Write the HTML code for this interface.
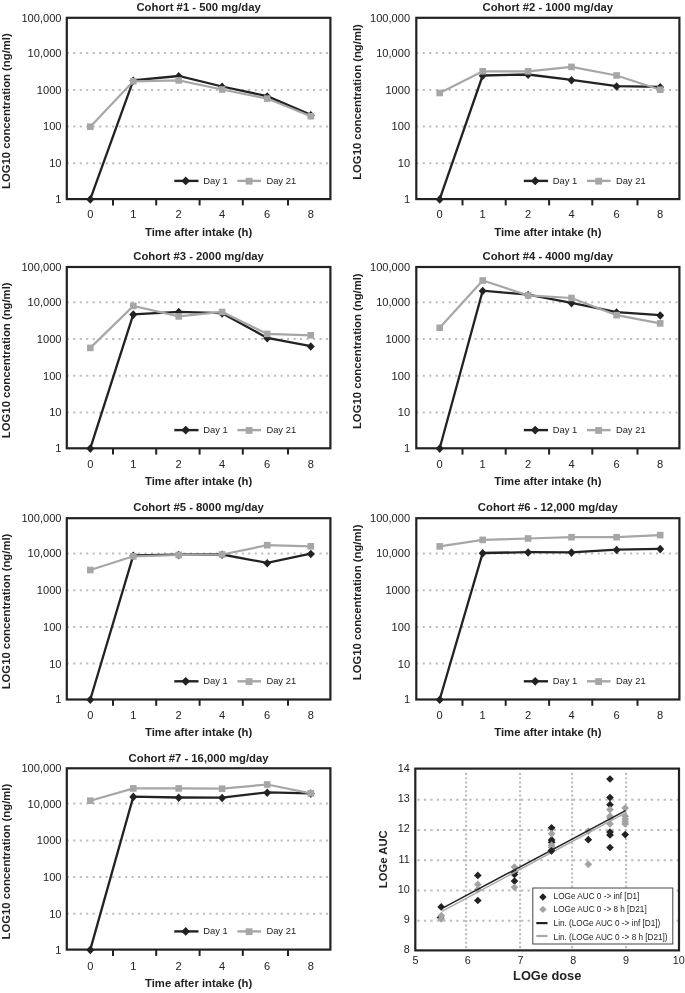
<!DOCTYPE html>
<html><head><meta charset="utf-8"><title>Figure</title>
<style>
html,body{margin:0;padding:0;background:#fff;}
body{width:685px;height:993px;overflow:hidden;}
svg{display:block;filter:grayscale(100%);font-family:"Liberation Sans", sans-serif;}
</style></head>
<body>
<svg width="685" height="993" viewBox="0 0 685 993">
<rect width="685" height="993" fill="#fff"/>
<path d="M66.75 52.10h2.10v2.00h-2.10zM73.23 52.10h2.10v2.00h-2.10zM79.71 52.10h2.10v2.00h-2.10zM86.19 52.10h2.10v2.00h-2.10zM92.67 52.10h2.10v2.00h-2.10zM99.15 52.10h2.10v2.00h-2.10zM105.63 52.10h2.10v2.00h-2.10zM112.11 52.10h2.10v2.00h-2.10zM118.59 52.10h2.10v2.00h-2.10zM125.07 52.10h2.10v2.00h-2.10zM131.55 52.10h2.10v2.00h-2.10zM138.03 52.10h2.10v2.00h-2.10zM144.51 52.10h2.10v2.00h-2.10zM150.99 52.10h2.10v2.00h-2.10zM157.47 52.10h2.10v2.00h-2.10zM163.95 52.10h2.10v2.00h-2.10zM170.43 52.10h2.10v2.00h-2.10zM176.91 52.10h2.10v2.00h-2.10zM183.39 52.10h2.10v2.00h-2.10zM189.87 52.10h2.10v2.00h-2.10zM196.35 52.10h2.10v2.00h-2.10zM202.83 52.10h2.10v2.00h-2.10zM209.31 52.10h2.10v2.00h-2.10zM215.79 52.10h2.10v2.00h-2.10zM222.27 52.10h2.10v2.00h-2.10zM228.75 52.10h2.10v2.00h-2.10zM235.23 52.10h2.10v2.00h-2.10zM241.71 52.10h2.10v2.00h-2.10zM248.19 52.10h2.10v2.00h-2.10zM254.67 52.10h2.10v2.00h-2.10zM261.15 52.10h2.10v2.00h-2.10zM267.63 52.10h2.10v2.00h-2.10zM274.11 52.10h2.10v2.00h-2.10zM280.59 52.10h2.10v2.00h-2.10zM287.07 52.10h2.10v2.00h-2.10zM293.55 52.10h2.10v2.00h-2.10zM300.03 52.10h2.10v2.00h-2.10zM306.51 52.10h2.10v2.00h-2.10zM312.99 52.10h2.10v2.00h-2.10zM319.47 52.10h2.10v2.00h-2.10zM325.95 52.10h2.10v2.00h-2.10z" fill="#bdbdbd"/>
<path d="M66.75 88.90h2.10v2.00h-2.10zM73.23 88.90h2.10v2.00h-2.10zM79.71 88.90h2.10v2.00h-2.10zM86.19 88.90h2.10v2.00h-2.10zM92.67 88.90h2.10v2.00h-2.10zM99.15 88.90h2.10v2.00h-2.10zM105.63 88.90h2.10v2.00h-2.10zM112.11 88.90h2.10v2.00h-2.10zM118.59 88.90h2.10v2.00h-2.10zM125.07 88.90h2.10v2.00h-2.10zM131.55 88.90h2.10v2.00h-2.10zM138.03 88.90h2.10v2.00h-2.10zM144.51 88.90h2.10v2.00h-2.10zM150.99 88.90h2.10v2.00h-2.10zM157.47 88.90h2.10v2.00h-2.10zM163.95 88.90h2.10v2.00h-2.10zM170.43 88.90h2.10v2.00h-2.10zM176.91 88.90h2.10v2.00h-2.10zM183.39 88.90h2.10v2.00h-2.10zM189.87 88.90h2.10v2.00h-2.10zM196.35 88.90h2.10v2.00h-2.10zM202.83 88.90h2.10v2.00h-2.10zM209.31 88.90h2.10v2.00h-2.10zM215.79 88.90h2.10v2.00h-2.10zM222.27 88.90h2.10v2.00h-2.10zM228.75 88.90h2.10v2.00h-2.10zM235.23 88.90h2.10v2.00h-2.10zM241.71 88.90h2.10v2.00h-2.10zM248.19 88.90h2.10v2.00h-2.10zM254.67 88.90h2.10v2.00h-2.10zM261.15 88.90h2.10v2.00h-2.10zM267.63 88.90h2.10v2.00h-2.10zM274.11 88.90h2.10v2.00h-2.10zM280.59 88.90h2.10v2.00h-2.10zM287.07 88.90h2.10v2.00h-2.10zM293.55 88.90h2.10v2.00h-2.10zM300.03 88.90h2.10v2.00h-2.10zM306.51 88.90h2.10v2.00h-2.10zM312.99 88.90h2.10v2.00h-2.10zM319.47 88.90h2.10v2.00h-2.10zM325.95 88.90h2.10v2.00h-2.10z" fill="#bdbdbd"/>
<path d="M66.75 125.50h2.10v2.00h-2.10zM73.23 125.50h2.10v2.00h-2.10zM79.71 125.50h2.10v2.00h-2.10zM86.19 125.50h2.10v2.00h-2.10zM92.67 125.50h2.10v2.00h-2.10zM99.15 125.50h2.10v2.00h-2.10zM105.63 125.50h2.10v2.00h-2.10zM112.11 125.50h2.10v2.00h-2.10zM118.59 125.50h2.10v2.00h-2.10zM125.07 125.50h2.10v2.00h-2.10zM131.55 125.50h2.10v2.00h-2.10zM138.03 125.50h2.10v2.00h-2.10zM144.51 125.50h2.10v2.00h-2.10zM150.99 125.50h2.10v2.00h-2.10zM157.47 125.50h2.10v2.00h-2.10zM163.95 125.50h2.10v2.00h-2.10zM170.43 125.50h2.10v2.00h-2.10zM176.91 125.50h2.10v2.00h-2.10zM183.39 125.50h2.10v2.00h-2.10zM189.87 125.50h2.10v2.00h-2.10zM196.35 125.50h2.10v2.00h-2.10zM202.83 125.50h2.10v2.00h-2.10zM209.31 125.50h2.10v2.00h-2.10zM215.79 125.50h2.10v2.00h-2.10zM222.27 125.50h2.10v2.00h-2.10zM228.75 125.50h2.10v2.00h-2.10zM235.23 125.50h2.10v2.00h-2.10zM241.71 125.50h2.10v2.00h-2.10zM248.19 125.50h2.10v2.00h-2.10zM254.67 125.50h2.10v2.00h-2.10zM261.15 125.50h2.10v2.00h-2.10zM267.63 125.50h2.10v2.00h-2.10zM274.11 125.50h2.10v2.00h-2.10zM280.59 125.50h2.10v2.00h-2.10zM287.07 125.50h2.10v2.00h-2.10zM293.55 125.50h2.10v2.00h-2.10zM300.03 125.50h2.10v2.00h-2.10zM306.51 125.50h2.10v2.00h-2.10zM312.99 125.50h2.10v2.00h-2.10zM319.47 125.50h2.10v2.00h-2.10zM325.95 125.50h2.10v2.00h-2.10z" fill="#bdbdbd"/>
<path d="M66.75 162.20h2.10v2.00h-2.10zM73.23 162.20h2.10v2.00h-2.10zM79.71 162.20h2.10v2.00h-2.10zM86.19 162.20h2.10v2.00h-2.10zM92.67 162.20h2.10v2.00h-2.10zM99.15 162.20h2.10v2.00h-2.10zM105.63 162.20h2.10v2.00h-2.10zM112.11 162.20h2.10v2.00h-2.10zM118.59 162.20h2.10v2.00h-2.10zM125.07 162.20h2.10v2.00h-2.10zM131.55 162.20h2.10v2.00h-2.10zM138.03 162.20h2.10v2.00h-2.10zM144.51 162.20h2.10v2.00h-2.10zM150.99 162.20h2.10v2.00h-2.10zM157.47 162.20h2.10v2.00h-2.10zM163.95 162.20h2.10v2.00h-2.10zM170.43 162.20h2.10v2.00h-2.10zM176.91 162.20h2.10v2.00h-2.10zM183.39 162.20h2.10v2.00h-2.10zM189.87 162.20h2.10v2.00h-2.10zM196.35 162.20h2.10v2.00h-2.10zM202.83 162.20h2.10v2.00h-2.10zM209.31 162.20h2.10v2.00h-2.10zM215.79 162.20h2.10v2.00h-2.10zM222.27 162.20h2.10v2.00h-2.10zM228.75 162.20h2.10v2.00h-2.10zM235.23 162.20h2.10v2.00h-2.10zM241.71 162.20h2.10v2.00h-2.10zM248.19 162.20h2.10v2.00h-2.10zM254.67 162.20h2.10v2.00h-2.10zM261.15 162.20h2.10v2.00h-2.10zM267.63 162.20h2.10v2.00h-2.10zM274.11 162.20h2.10v2.00h-2.10zM280.59 162.20h2.10v2.00h-2.10zM287.07 162.20h2.10v2.00h-2.10zM293.55 162.20h2.10v2.00h-2.10zM300.03 162.20h2.10v2.00h-2.10zM306.51 162.20h2.10v2.00h-2.10zM312.99 162.20h2.10v2.00h-2.10zM319.47 162.20h2.10v2.00h-2.10zM325.95 162.20h2.10v2.00h-2.10z" fill="#bdbdbd"/>
<rect x="66.80" y="17.80" width="263.60" height="181.30" fill="none" stroke="#222" stroke-width="2.2"/>
<line x1="113.00" y1="199.10" x2="113.00" y2="205.40" stroke="#222" stroke-width="2"/>
<line x1="156.20" y1="199.10" x2="156.20" y2="205.40" stroke="#222" stroke-width="2"/>
<line x1="199.60" y1="199.10" x2="199.60" y2="205.40" stroke="#222" stroke-width="2"/>
<line x1="242.80" y1="199.10" x2="242.80" y2="205.40" stroke="#222" stroke-width="2"/>
<line x1="288.00" y1="199.10" x2="288.00" y2="205.40" stroke="#222" stroke-width="2"/>
<text x="61.50" y="21.70" font-size="11.1" font-weight="normal" text-anchor="end" fill="#222" >100,000</text>
<text x="61.50" y="57.00" font-size="11.1" font-weight="normal" text-anchor="end" fill="#222" >10,000</text>
<text x="61.50" y="93.80" font-size="11.1" font-weight="normal" text-anchor="end" fill="#222" >1000</text>
<text x="61.50" y="130.40" font-size="11.1" font-weight="normal" text-anchor="end" fill="#222" >100</text>
<text x="61.50" y="167.10" font-size="11.1" font-weight="normal" text-anchor="end" fill="#222" >10</text>
<text x="61.50" y="203.00" font-size="11.1" font-weight="normal" text-anchor="end" fill="#222" >1</text>
<text x="90.30" y="218.00" font-size="11.1" font-weight="normal" text-anchor="middle" fill="#222" >0</text>
<text x="133.30" y="218.00" font-size="11.1" font-weight="normal" text-anchor="middle" fill="#222" >1</text>
<text x="178.70" y="218.00" font-size="11.1" font-weight="normal" text-anchor="middle" fill="#222" >2</text>
<text x="222.10" y="218.00" font-size="11.1" font-weight="normal" text-anchor="middle" fill="#222" >4</text>
<text x="267.20" y="218.00" font-size="11.1" font-weight="normal" text-anchor="middle" fill="#222" >6</text>
<text x="310.80" y="218.00" font-size="11.1" font-weight="normal" text-anchor="middle" fill="#222" >8</text>
<text x="198.60" y="11.00" font-size="11.3" font-weight="bold" text-anchor="middle" fill="#222" >Cohort #1 - 500 mg/day</text>
<text x="198.60" y="235.70" font-size="11.3" font-weight="bold" text-anchor="middle" fill="#222" >Time after intake (h)</text>
<text x="0.00" y="0.00" font-size="11.3" font-weight="bold" text-anchor="middle" fill="#222" transform="translate(9.80 111.10) rotate(-90)">LOG10 concentration (ng/ml)</text>
<polyline points="90.30,199.10 133.30,80.40 178.70,76.00 222.10,86.50 267.20,96.20 310.80,114.90" fill="none" stroke="#222" stroke-width="2.3" stroke-linejoin="miter"/>
<path d="M90.30 195.10L94.30 199.40L90.30 203.70L86.30 199.40Z" fill="#222"/>
<path d="M133.30 76.40L137.30 80.70L133.30 85.00L129.30 80.70Z" fill="#222"/>
<path d="M178.70 72.00L182.70 76.30L178.70 80.60L174.70 76.30Z" fill="#222"/>
<path d="M222.10 82.50L226.10 86.80L222.10 91.10L218.10 86.80Z" fill="#222"/>
<path d="M267.20 92.20L271.20 96.50L267.20 100.80L263.20 96.50Z" fill="#222"/>
<path d="M310.80 110.90L314.80 115.20L310.80 119.50L306.80 115.20Z" fill="#222"/>
<polyline points="90.30,126.70 133.30,81.30 178.70,80.40 222.10,89.50 267.20,98.60 310.80,116.20" fill="none" stroke="#a5a6a9" stroke-width="2.2" stroke-linejoin="miter"/>
<rect x="87.00" y="123.40" width="6.60" height="6.60" fill="#a5a6a9"/>
<rect x="130.00" y="78.00" width="6.60" height="6.60" fill="#a5a6a9"/>
<rect x="175.40" y="77.10" width="6.60" height="6.60" fill="#a5a6a9"/>
<rect x="218.80" y="86.20" width="6.60" height="6.60" fill="#a5a6a9"/>
<rect x="263.90" y="95.30" width="6.60" height="6.60" fill="#a5a6a9"/>
<rect x="307.50" y="112.90" width="6.60" height="6.60" fill="#a5a6a9"/>
<line x1="174.30" y1="180.90" x2="198.50" y2="180.90" stroke="#222" stroke-width="2.4"/>
<path d="M185.70 176.50L190.10 180.90L185.70 185.30L181.30 180.90Z" fill="#222"/>
<text x="203.20" y="183.60" font-size="9.4" font-weight="normal" text-anchor="start" fill="#222" >Day 1</text>
<line x1="237.40" y1="180.90" x2="261.10" y2="180.90" stroke="#a5a6a9" stroke-width="2.4"/>
<rect x="245.70" y="177.80" width="6.80" height="6.80" fill="#a5a6a9"/>
<text x="266.40" y="183.60" font-size="9.4" font-weight="normal" text-anchor="start" fill="#222" >Day 21</text>
<path d="M416.25 52.10h2.10v2.00h-2.10zM422.73 52.10h2.10v2.00h-2.10zM429.21 52.10h2.10v2.00h-2.10zM435.69 52.10h2.10v2.00h-2.10zM442.17 52.10h2.10v2.00h-2.10zM448.65 52.10h2.10v2.00h-2.10zM455.13 52.10h2.10v2.00h-2.10zM461.61 52.10h2.10v2.00h-2.10zM468.09 52.10h2.10v2.00h-2.10zM474.57 52.10h2.10v2.00h-2.10zM481.05 52.10h2.10v2.00h-2.10zM487.53 52.10h2.10v2.00h-2.10zM494.01 52.10h2.10v2.00h-2.10zM500.49 52.10h2.10v2.00h-2.10zM506.97 52.10h2.10v2.00h-2.10zM513.45 52.10h2.10v2.00h-2.10zM519.93 52.10h2.10v2.00h-2.10zM526.41 52.10h2.10v2.00h-2.10zM532.89 52.10h2.10v2.00h-2.10zM539.37 52.10h2.10v2.00h-2.10zM545.85 52.10h2.10v2.00h-2.10zM552.33 52.10h2.10v2.00h-2.10zM558.81 52.10h2.10v2.00h-2.10zM565.29 52.10h2.10v2.00h-2.10zM571.77 52.10h2.10v2.00h-2.10zM578.25 52.10h2.10v2.00h-2.10zM584.73 52.10h2.10v2.00h-2.10zM591.21 52.10h2.10v2.00h-2.10zM597.69 52.10h2.10v2.00h-2.10zM604.17 52.10h2.10v2.00h-2.10zM610.65 52.10h2.10v2.00h-2.10zM617.13 52.10h2.10v2.00h-2.10zM623.61 52.10h2.10v2.00h-2.10zM630.09 52.10h2.10v2.00h-2.10zM636.57 52.10h2.10v2.00h-2.10zM643.05 52.10h2.10v2.00h-2.10zM649.53 52.10h2.10v2.00h-2.10zM656.01 52.10h2.10v2.00h-2.10zM662.49 52.10h2.10v2.00h-2.10zM668.97 52.10h2.10v2.00h-2.10zM675.45 52.10h2.10v2.00h-2.10z" fill="#bdbdbd"/>
<path d="M416.25 88.90h2.10v2.00h-2.10zM422.73 88.90h2.10v2.00h-2.10zM429.21 88.90h2.10v2.00h-2.10zM435.69 88.90h2.10v2.00h-2.10zM442.17 88.90h2.10v2.00h-2.10zM448.65 88.90h2.10v2.00h-2.10zM455.13 88.90h2.10v2.00h-2.10zM461.61 88.90h2.10v2.00h-2.10zM468.09 88.90h2.10v2.00h-2.10zM474.57 88.90h2.10v2.00h-2.10zM481.05 88.90h2.10v2.00h-2.10zM487.53 88.90h2.10v2.00h-2.10zM494.01 88.90h2.10v2.00h-2.10zM500.49 88.90h2.10v2.00h-2.10zM506.97 88.90h2.10v2.00h-2.10zM513.45 88.90h2.10v2.00h-2.10zM519.93 88.90h2.10v2.00h-2.10zM526.41 88.90h2.10v2.00h-2.10zM532.89 88.90h2.10v2.00h-2.10zM539.37 88.90h2.10v2.00h-2.10zM545.85 88.90h2.10v2.00h-2.10zM552.33 88.90h2.10v2.00h-2.10zM558.81 88.90h2.10v2.00h-2.10zM565.29 88.90h2.10v2.00h-2.10zM571.77 88.90h2.10v2.00h-2.10zM578.25 88.90h2.10v2.00h-2.10zM584.73 88.90h2.10v2.00h-2.10zM591.21 88.90h2.10v2.00h-2.10zM597.69 88.90h2.10v2.00h-2.10zM604.17 88.90h2.10v2.00h-2.10zM610.65 88.90h2.10v2.00h-2.10zM617.13 88.90h2.10v2.00h-2.10zM623.61 88.90h2.10v2.00h-2.10zM630.09 88.90h2.10v2.00h-2.10zM636.57 88.90h2.10v2.00h-2.10zM643.05 88.90h2.10v2.00h-2.10zM649.53 88.90h2.10v2.00h-2.10zM656.01 88.90h2.10v2.00h-2.10zM662.49 88.90h2.10v2.00h-2.10zM668.97 88.90h2.10v2.00h-2.10zM675.45 88.90h2.10v2.00h-2.10z" fill="#bdbdbd"/>
<path d="M416.25 125.50h2.10v2.00h-2.10zM422.73 125.50h2.10v2.00h-2.10zM429.21 125.50h2.10v2.00h-2.10zM435.69 125.50h2.10v2.00h-2.10zM442.17 125.50h2.10v2.00h-2.10zM448.65 125.50h2.10v2.00h-2.10zM455.13 125.50h2.10v2.00h-2.10zM461.61 125.50h2.10v2.00h-2.10zM468.09 125.50h2.10v2.00h-2.10zM474.57 125.50h2.10v2.00h-2.10zM481.05 125.50h2.10v2.00h-2.10zM487.53 125.50h2.10v2.00h-2.10zM494.01 125.50h2.10v2.00h-2.10zM500.49 125.50h2.10v2.00h-2.10zM506.97 125.50h2.10v2.00h-2.10zM513.45 125.50h2.10v2.00h-2.10zM519.93 125.50h2.10v2.00h-2.10zM526.41 125.50h2.10v2.00h-2.10zM532.89 125.50h2.10v2.00h-2.10zM539.37 125.50h2.10v2.00h-2.10zM545.85 125.50h2.10v2.00h-2.10zM552.33 125.50h2.10v2.00h-2.10zM558.81 125.50h2.10v2.00h-2.10zM565.29 125.50h2.10v2.00h-2.10zM571.77 125.50h2.10v2.00h-2.10zM578.25 125.50h2.10v2.00h-2.10zM584.73 125.50h2.10v2.00h-2.10zM591.21 125.50h2.10v2.00h-2.10zM597.69 125.50h2.10v2.00h-2.10zM604.17 125.50h2.10v2.00h-2.10zM610.65 125.50h2.10v2.00h-2.10zM617.13 125.50h2.10v2.00h-2.10zM623.61 125.50h2.10v2.00h-2.10zM630.09 125.50h2.10v2.00h-2.10zM636.57 125.50h2.10v2.00h-2.10zM643.05 125.50h2.10v2.00h-2.10zM649.53 125.50h2.10v2.00h-2.10zM656.01 125.50h2.10v2.00h-2.10zM662.49 125.50h2.10v2.00h-2.10zM668.97 125.50h2.10v2.00h-2.10zM675.45 125.50h2.10v2.00h-2.10z" fill="#bdbdbd"/>
<path d="M416.25 162.20h2.10v2.00h-2.10zM422.73 162.20h2.10v2.00h-2.10zM429.21 162.20h2.10v2.00h-2.10zM435.69 162.20h2.10v2.00h-2.10zM442.17 162.20h2.10v2.00h-2.10zM448.65 162.20h2.10v2.00h-2.10zM455.13 162.20h2.10v2.00h-2.10zM461.61 162.20h2.10v2.00h-2.10zM468.09 162.20h2.10v2.00h-2.10zM474.57 162.20h2.10v2.00h-2.10zM481.05 162.20h2.10v2.00h-2.10zM487.53 162.20h2.10v2.00h-2.10zM494.01 162.20h2.10v2.00h-2.10zM500.49 162.20h2.10v2.00h-2.10zM506.97 162.20h2.10v2.00h-2.10zM513.45 162.20h2.10v2.00h-2.10zM519.93 162.20h2.10v2.00h-2.10zM526.41 162.20h2.10v2.00h-2.10zM532.89 162.20h2.10v2.00h-2.10zM539.37 162.20h2.10v2.00h-2.10zM545.85 162.20h2.10v2.00h-2.10zM552.33 162.20h2.10v2.00h-2.10zM558.81 162.20h2.10v2.00h-2.10zM565.29 162.20h2.10v2.00h-2.10zM571.77 162.20h2.10v2.00h-2.10zM578.25 162.20h2.10v2.00h-2.10zM584.73 162.20h2.10v2.00h-2.10zM591.21 162.20h2.10v2.00h-2.10zM597.69 162.20h2.10v2.00h-2.10zM604.17 162.20h2.10v2.00h-2.10zM610.65 162.20h2.10v2.00h-2.10zM617.13 162.20h2.10v2.00h-2.10zM623.61 162.20h2.10v2.00h-2.10zM630.09 162.20h2.10v2.00h-2.10zM636.57 162.20h2.10v2.00h-2.10zM643.05 162.20h2.10v2.00h-2.10zM649.53 162.20h2.10v2.00h-2.10zM656.01 162.20h2.10v2.00h-2.10zM662.49 162.20h2.10v2.00h-2.10zM668.97 162.20h2.10v2.00h-2.10zM675.45 162.20h2.10v2.00h-2.10z" fill="#bdbdbd"/>
<rect x="416.30" y="17.80" width="263.10" height="181.30" fill="none" stroke="#222" stroke-width="2.2"/>
<line x1="462.50" y1="199.10" x2="462.50" y2="205.40" stroke="#222" stroke-width="2"/>
<line x1="505.70" y1="199.10" x2="505.70" y2="205.40" stroke="#222" stroke-width="2"/>
<line x1="549.10" y1="199.10" x2="549.10" y2="205.40" stroke="#222" stroke-width="2"/>
<line x1="592.30" y1="199.10" x2="592.30" y2="205.40" stroke="#222" stroke-width="2"/>
<line x1="637.50" y1="199.10" x2="637.50" y2="205.40" stroke="#222" stroke-width="2"/>
<text x="410.10" y="21.70" font-size="11.1" font-weight="normal" text-anchor="end" fill="#222" >100,000</text>
<text x="410.10" y="57.00" font-size="11.1" font-weight="normal" text-anchor="end" fill="#222" >10,000</text>
<text x="410.10" y="93.80" font-size="11.1" font-weight="normal" text-anchor="end" fill="#222" >1000</text>
<text x="410.10" y="130.40" font-size="11.1" font-weight="normal" text-anchor="end" fill="#222" >100</text>
<text x="410.10" y="167.10" font-size="11.1" font-weight="normal" text-anchor="end" fill="#222" >10</text>
<text x="410.10" y="203.00" font-size="11.1" font-weight="normal" text-anchor="end" fill="#222" >1</text>
<text x="439.70" y="218.00" font-size="11.1" font-weight="normal" text-anchor="middle" fill="#222" >0</text>
<text x="482.70" y="218.00" font-size="11.1" font-weight="normal" text-anchor="middle" fill="#222" >1</text>
<text x="528.10" y="218.00" font-size="11.1" font-weight="normal" text-anchor="middle" fill="#222" >2</text>
<text x="571.50" y="218.00" font-size="11.1" font-weight="normal" text-anchor="middle" fill="#222" >4</text>
<text x="616.60" y="218.00" font-size="11.1" font-weight="normal" text-anchor="middle" fill="#222" >6</text>
<text x="660.20" y="218.00" font-size="11.1" font-weight="normal" text-anchor="middle" fill="#222" >8</text>
<text x="547.85" y="11.00" font-size="11.3" font-weight="bold" text-anchor="middle" fill="#222" >Cohort #2 - 1000 mg/day</text>
<text x="547.85" y="235.70" font-size="11.3" font-weight="bold" text-anchor="middle" fill="#222" >Time after intake (h)</text>
<text x="0.00" y="0.00" font-size="11.3" font-weight="bold" text-anchor="middle" fill="#222" transform="translate(361.00 102.00) rotate(-90)">LOG10 concentration (ng/ml)</text>
<polyline points="439.70,199.10 482.70,75.50 528.10,74.50 571.50,79.90 616.60,86.20 660.20,86.90" fill="none" stroke="#222" stroke-width="2.3" stroke-linejoin="miter"/>
<path d="M439.70 195.10L443.70 199.40L439.70 203.70L435.70 199.40Z" fill="#222"/>
<path d="M482.70 71.50L486.70 75.80L482.70 80.10L478.70 75.80Z" fill="#222"/>
<path d="M528.10 70.50L532.10 74.80L528.10 79.10L524.10 74.80Z" fill="#222"/>
<path d="M571.50 75.90L575.50 80.20L571.50 84.50L567.50 80.20Z" fill="#222"/>
<path d="M616.60 82.20L620.60 86.50L616.60 90.80L612.60 86.50Z" fill="#222"/>
<path d="M660.20 82.90L664.20 87.20L660.20 91.50L656.20 87.20Z" fill="#222"/>
<polyline points="439.70,93.00 482.70,71.30 528.10,71.30 571.50,66.90 616.60,75.50 660.20,89.70" fill="none" stroke="#a5a6a9" stroke-width="2.2" stroke-linejoin="miter"/>
<rect x="436.40" y="89.70" width="6.60" height="6.60" fill="#a5a6a9"/>
<rect x="479.40" y="68.00" width="6.60" height="6.60" fill="#a5a6a9"/>
<rect x="524.80" y="68.00" width="6.60" height="6.60" fill="#a5a6a9"/>
<rect x="568.20" y="63.60" width="6.60" height="6.60" fill="#a5a6a9"/>
<rect x="613.30" y="72.20" width="6.60" height="6.60" fill="#a5a6a9"/>
<rect x="656.90" y="86.40" width="6.60" height="6.60" fill="#a5a6a9"/>
<line x1="523.80" y1="180.90" x2="548.00" y2="180.90" stroke="#222" stroke-width="2.4"/>
<path d="M535.20 176.50L539.60 180.90L535.20 185.30L530.80 180.90Z" fill="#222"/>
<text x="552.70" y="183.60" font-size="9.4" font-weight="normal" text-anchor="start" fill="#222" >Day 1</text>
<line x1="586.90" y1="180.90" x2="610.60" y2="180.90" stroke="#a5a6a9" stroke-width="2.4"/>
<rect x="595.20" y="177.80" width="6.80" height="6.80" fill="#a5a6a9"/>
<text x="615.90" y="183.60" font-size="9.4" font-weight="normal" text-anchor="start" fill="#222" >Day 21</text>
<path d="M66.75 301.30h2.10v2.00h-2.10zM73.23 301.30h2.10v2.00h-2.10zM79.71 301.30h2.10v2.00h-2.10zM86.19 301.30h2.10v2.00h-2.10zM92.67 301.30h2.10v2.00h-2.10zM99.15 301.30h2.10v2.00h-2.10zM105.63 301.30h2.10v2.00h-2.10zM112.11 301.30h2.10v2.00h-2.10zM118.59 301.30h2.10v2.00h-2.10zM125.07 301.30h2.10v2.00h-2.10zM131.55 301.30h2.10v2.00h-2.10zM138.03 301.30h2.10v2.00h-2.10zM144.51 301.30h2.10v2.00h-2.10zM150.99 301.30h2.10v2.00h-2.10zM157.47 301.30h2.10v2.00h-2.10zM163.95 301.30h2.10v2.00h-2.10zM170.43 301.30h2.10v2.00h-2.10zM176.91 301.30h2.10v2.00h-2.10zM183.39 301.30h2.10v2.00h-2.10zM189.87 301.30h2.10v2.00h-2.10zM196.35 301.30h2.10v2.00h-2.10zM202.83 301.30h2.10v2.00h-2.10zM209.31 301.30h2.10v2.00h-2.10zM215.79 301.30h2.10v2.00h-2.10zM222.27 301.30h2.10v2.00h-2.10zM228.75 301.30h2.10v2.00h-2.10zM235.23 301.30h2.10v2.00h-2.10zM241.71 301.30h2.10v2.00h-2.10zM248.19 301.30h2.10v2.00h-2.10zM254.67 301.30h2.10v2.00h-2.10zM261.15 301.30h2.10v2.00h-2.10zM267.63 301.30h2.10v2.00h-2.10zM274.11 301.30h2.10v2.00h-2.10zM280.59 301.30h2.10v2.00h-2.10zM287.07 301.30h2.10v2.00h-2.10zM293.55 301.30h2.10v2.00h-2.10zM300.03 301.30h2.10v2.00h-2.10zM306.51 301.30h2.10v2.00h-2.10zM312.99 301.30h2.10v2.00h-2.10zM319.47 301.30h2.10v2.00h-2.10zM325.95 301.30h2.10v2.00h-2.10z" fill="#bdbdbd"/>
<path d="M66.75 338.10h2.10v2.00h-2.10zM73.23 338.10h2.10v2.00h-2.10zM79.71 338.10h2.10v2.00h-2.10zM86.19 338.10h2.10v2.00h-2.10zM92.67 338.10h2.10v2.00h-2.10zM99.15 338.10h2.10v2.00h-2.10zM105.63 338.10h2.10v2.00h-2.10zM112.11 338.10h2.10v2.00h-2.10zM118.59 338.10h2.10v2.00h-2.10zM125.07 338.10h2.10v2.00h-2.10zM131.55 338.10h2.10v2.00h-2.10zM138.03 338.10h2.10v2.00h-2.10zM144.51 338.10h2.10v2.00h-2.10zM150.99 338.10h2.10v2.00h-2.10zM157.47 338.10h2.10v2.00h-2.10zM163.95 338.10h2.10v2.00h-2.10zM170.43 338.10h2.10v2.00h-2.10zM176.91 338.10h2.10v2.00h-2.10zM183.39 338.10h2.10v2.00h-2.10zM189.87 338.10h2.10v2.00h-2.10zM196.35 338.10h2.10v2.00h-2.10zM202.83 338.10h2.10v2.00h-2.10zM209.31 338.10h2.10v2.00h-2.10zM215.79 338.10h2.10v2.00h-2.10zM222.27 338.10h2.10v2.00h-2.10zM228.75 338.10h2.10v2.00h-2.10zM235.23 338.10h2.10v2.00h-2.10zM241.71 338.10h2.10v2.00h-2.10zM248.19 338.10h2.10v2.00h-2.10zM254.67 338.10h2.10v2.00h-2.10zM261.15 338.10h2.10v2.00h-2.10zM267.63 338.10h2.10v2.00h-2.10zM274.11 338.10h2.10v2.00h-2.10zM280.59 338.10h2.10v2.00h-2.10zM287.07 338.10h2.10v2.00h-2.10zM293.55 338.10h2.10v2.00h-2.10zM300.03 338.10h2.10v2.00h-2.10zM306.51 338.10h2.10v2.00h-2.10zM312.99 338.10h2.10v2.00h-2.10zM319.47 338.10h2.10v2.00h-2.10zM325.95 338.10h2.10v2.00h-2.10z" fill="#bdbdbd"/>
<path d="M66.75 374.70h2.10v2.00h-2.10zM73.23 374.70h2.10v2.00h-2.10zM79.71 374.70h2.10v2.00h-2.10zM86.19 374.70h2.10v2.00h-2.10zM92.67 374.70h2.10v2.00h-2.10zM99.15 374.70h2.10v2.00h-2.10zM105.63 374.70h2.10v2.00h-2.10zM112.11 374.70h2.10v2.00h-2.10zM118.59 374.70h2.10v2.00h-2.10zM125.07 374.70h2.10v2.00h-2.10zM131.55 374.70h2.10v2.00h-2.10zM138.03 374.70h2.10v2.00h-2.10zM144.51 374.70h2.10v2.00h-2.10zM150.99 374.70h2.10v2.00h-2.10zM157.47 374.70h2.10v2.00h-2.10zM163.95 374.70h2.10v2.00h-2.10zM170.43 374.70h2.10v2.00h-2.10zM176.91 374.70h2.10v2.00h-2.10zM183.39 374.70h2.10v2.00h-2.10zM189.87 374.70h2.10v2.00h-2.10zM196.35 374.70h2.10v2.00h-2.10zM202.83 374.70h2.10v2.00h-2.10zM209.31 374.70h2.10v2.00h-2.10zM215.79 374.70h2.10v2.00h-2.10zM222.27 374.70h2.10v2.00h-2.10zM228.75 374.70h2.10v2.00h-2.10zM235.23 374.70h2.10v2.00h-2.10zM241.71 374.70h2.10v2.00h-2.10zM248.19 374.70h2.10v2.00h-2.10zM254.67 374.70h2.10v2.00h-2.10zM261.15 374.70h2.10v2.00h-2.10zM267.63 374.70h2.10v2.00h-2.10zM274.11 374.70h2.10v2.00h-2.10zM280.59 374.70h2.10v2.00h-2.10zM287.07 374.70h2.10v2.00h-2.10zM293.55 374.70h2.10v2.00h-2.10zM300.03 374.70h2.10v2.00h-2.10zM306.51 374.70h2.10v2.00h-2.10zM312.99 374.70h2.10v2.00h-2.10zM319.47 374.70h2.10v2.00h-2.10zM325.95 374.70h2.10v2.00h-2.10z" fill="#bdbdbd"/>
<path d="M66.75 411.40h2.10v2.00h-2.10zM73.23 411.40h2.10v2.00h-2.10zM79.71 411.40h2.10v2.00h-2.10zM86.19 411.40h2.10v2.00h-2.10zM92.67 411.40h2.10v2.00h-2.10zM99.15 411.40h2.10v2.00h-2.10zM105.63 411.40h2.10v2.00h-2.10zM112.11 411.40h2.10v2.00h-2.10zM118.59 411.40h2.10v2.00h-2.10zM125.07 411.40h2.10v2.00h-2.10zM131.55 411.40h2.10v2.00h-2.10zM138.03 411.40h2.10v2.00h-2.10zM144.51 411.40h2.10v2.00h-2.10zM150.99 411.40h2.10v2.00h-2.10zM157.47 411.40h2.10v2.00h-2.10zM163.95 411.40h2.10v2.00h-2.10zM170.43 411.40h2.10v2.00h-2.10zM176.91 411.40h2.10v2.00h-2.10zM183.39 411.40h2.10v2.00h-2.10zM189.87 411.40h2.10v2.00h-2.10zM196.35 411.40h2.10v2.00h-2.10zM202.83 411.40h2.10v2.00h-2.10zM209.31 411.40h2.10v2.00h-2.10zM215.79 411.40h2.10v2.00h-2.10zM222.27 411.40h2.10v2.00h-2.10zM228.75 411.40h2.10v2.00h-2.10zM235.23 411.40h2.10v2.00h-2.10zM241.71 411.40h2.10v2.00h-2.10zM248.19 411.40h2.10v2.00h-2.10zM254.67 411.40h2.10v2.00h-2.10zM261.15 411.40h2.10v2.00h-2.10zM267.63 411.40h2.10v2.00h-2.10zM274.11 411.40h2.10v2.00h-2.10zM280.59 411.40h2.10v2.00h-2.10zM287.07 411.40h2.10v2.00h-2.10zM293.55 411.40h2.10v2.00h-2.10zM300.03 411.40h2.10v2.00h-2.10zM306.51 411.40h2.10v2.00h-2.10zM312.99 411.40h2.10v2.00h-2.10zM319.47 411.40h2.10v2.00h-2.10zM325.95 411.40h2.10v2.00h-2.10z" fill="#bdbdbd"/>
<rect x="66.80" y="267.00" width="263.60" height="181.30" fill="none" stroke="#222" stroke-width="2.2"/>
<line x1="113.00" y1="448.30" x2="113.00" y2="454.60" stroke="#222" stroke-width="2"/>
<line x1="156.20" y1="448.30" x2="156.20" y2="454.60" stroke="#222" stroke-width="2"/>
<line x1="199.60" y1="448.30" x2="199.60" y2="454.60" stroke="#222" stroke-width="2"/>
<line x1="242.80" y1="448.30" x2="242.80" y2="454.60" stroke="#222" stroke-width="2"/>
<line x1="288.00" y1="448.30" x2="288.00" y2="454.60" stroke="#222" stroke-width="2"/>
<text x="61.50" y="270.90" font-size="11.1" font-weight="normal" text-anchor="end" fill="#222" >100,000</text>
<text x="61.50" y="306.20" font-size="11.1" font-weight="normal" text-anchor="end" fill="#222" >10,000</text>
<text x="61.50" y="343.00" font-size="11.1" font-weight="normal" text-anchor="end" fill="#222" >1000</text>
<text x="61.50" y="379.60" font-size="11.1" font-weight="normal" text-anchor="end" fill="#222" >100</text>
<text x="61.50" y="416.30" font-size="11.1" font-weight="normal" text-anchor="end" fill="#222" >10</text>
<text x="61.50" y="452.20" font-size="11.1" font-weight="normal" text-anchor="end" fill="#222" >1</text>
<text x="90.30" y="467.80" font-size="11.1" font-weight="normal" text-anchor="middle" fill="#222" >0</text>
<text x="133.30" y="467.80" font-size="11.1" font-weight="normal" text-anchor="middle" fill="#222" >1</text>
<text x="178.70" y="467.80" font-size="11.1" font-weight="normal" text-anchor="middle" fill="#222" >2</text>
<text x="222.10" y="467.80" font-size="11.1" font-weight="normal" text-anchor="middle" fill="#222" >4</text>
<text x="267.20" y="467.80" font-size="11.1" font-weight="normal" text-anchor="middle" fill="#222" >6</text>
<text x="310.80" y="467.80" font-size="11.1" font-weight="normal" text-anchor="middle" fill="#222" >8</text>
<text x="198.60" y="260.20" font-size="11.3" font-weight="bold" text-anchor="middle" fill="#222" >Cohort #3 - 2000 mg/day</text>
<text x="198.60" y="484.80" font-size="11.3" font-weight="bold" text-anchor="middle" fill="#222" >Time after intake (h)</text>
<text x="0.00" y="0.00" font-size="11.3" font-weight="bold" text-anchor="middle" fill="#222" transform="translate(9.80 360.30) rotate(-90)">LOG10 concentration (ng/ml)</text>
<polyline points="90.30,448.30 133.30,314.30 178.70,311.80 222.10,313.20 267.20,337.90 310.80,346.20" fill="none" stroke="#222" stroke-width="2.3" stroke-linejoin="miter"/>
<path d="M90.30 444.30L94.30 448.60L90.30 452.90L86.30 448.60Z" fill="#222"/>
<path d="M133.30 310.30L137.30 314.60L133.30 318.90L129.30 314.60Z" fill="#222"/>
<path d="M178.70 307.80L182.70 312.10L178.70 316.40L174.70 312.10Z" fill="#222"/>
<path d="M222.10 309.20L226.10 313.50L222.10 317.80L218.10 313.50Z" fill="#222"/>
<path d="M267.20 333.90L271.20 338.20L267.20 342.50L263.20 338.20Z" fill="#222"/>
<path d="M310.80 342.20L314.80 346.50L310.80 350.80L306.80 346.50Z" fill="#222"/>
<polyline points="90.30,347.90 133.30,305.90 178.70,316.40 222.10,312.00 267.20,333.90 310.80,335.30" fill="none" stroke="#a5a6a9" stroke-width="2.2" stroke-linejoin="miter"/>
<rect x="87.00" y="344.60" width="6.60" height="6.60" fill="#a5a6a9"/>
<rect x="130.00" y="302.60" width="6.60" height="6.60" fill="#a5a6a9"/>
<rect x="175.40" y="313.10" width="6.60" height="6.60" fill="#a5a6a9"/>
<rect x="218.80" y="308.70" width="6.60" height="6.60" fill="#a5a6a9"/>
<rect x="263.90" y="330.60" width="6.60" height="6.60" fill="#a5a6a9"/>
<rect x="307.50" y="332.00" width="6.60" height="6.60" fill="#a5a6a9"/>
<line x1="174.30" y1="430.10" x2="198.50" y2="430.10" stroke="#222" stroke-width="2.4"/>
<path d="M185.70 425.70L190.10 430.10L185.70 434.50L181.30 430.10Z" fill="#222"/>
<text x="203.20" y="432.80" font-size="9.4" font-weight="normal" text-anchor="start" fill="#222" >Day 1</text>
<line x1="237.40" y1="430.10" x2="261.10" y2="430.10" stroke="#a5a6a9" stroke-width="2.4"/>
<rect x="245.70" y="427.00" width="6.80" height="6.80" fill="#a5a6a9"/>
<text x="266.40" y="432.80" font-size="9.4" font-weight="normal" text-anchor="start" fill="#222" >Day 21</text>
<path d="M416.25 301.30h2.10v2.00h-2.10zM422.73 301.30h2.10v2.00h-2.10zM429.21 301.30h2.10v2.00h-2.10zM435.69 301.30h2.10v2.00h-2.10zM442.17 301.30h2.10v2.00h-2.10zM448.65 301.30h2.10v2.00h-2.10zM455.13 301.30h2.10v2.00h-2.10zM461.61 301.30h2.10v2.00h-2.10zM468.09 301.30h2.10v2.00h-2.10zM474.57 301.30h2.10v2.00h-2.10zM481.05 301.30h2.10v2.00h-2.10zM487.53 301.30h2.10v2.00h-2.10zM494.01 301.30h2.10v2.00h-2.10zM500.49 301.30h2.10v2.00h-2.10zM506.97 301.30h2.10v2.00h-2.10zM513.45 301.30h2.10v2.00h-2.10zM519.93 301.30h2.10v2.00h-2.10zM526.41 301.30h2.10v2.00h-2.10zM532.89 301.30h2.10v2.00h-2.10zM539.37 301.30h2.10v2.00h-2.10zM545.85 301.30h2.10v2.00h-2.10zM552.33 301.30h2.10v2.00h-2.10zM558.81 301.30h2.10v2.00h-2.10zM565.29 301.30h2.10v2.00h-2.10zM571.77 301.30h2.10v2.00h-2.10zM578.25 301.30h2.10v2.00h-2.10zM584.73 301.30h2.10v2.00h-2.10zM591.21 301.30h2.10v2.00h-2.10zM597.69 301.30h2.10v2.00h-2.10zM604.17 301.30h2.10v2.00h-2.10zM610.65 301.30h2.10v2.00h-2.10zM617.13 301.30h2.10v2.00h-2.10zM623.61 301.30h2.10v2.00h-2.10zM630.09 301.30h2.10v2.00h-2.10zM636.57 301.30h2.10v2.00h-2.10zM643.05 301.30h2.10v2.00h-2.10zM649.53 301.30h2.10v2.00h-2.10zM656.01 301.30h2.10v2.00h-2.10zM662.49 301.30h2.10v2.00h-2.10zM668.97 301.30h2.10v2.00h-2.10zM675.45 301.30h2.10v2.00h-2.10z" fill="#bdbdbd"/>
<path d="M416.25 338.10h2.10v2.00h-2.10zM422.73 338.10h2.10v2.00h-2.10zM429.21 338.10h2.10v2.00h-2.10zM435.69 338.10h2.10v2.00h-2.10zM442.17 338.10h2.10v2.00h-2.10zM448.65 338.10h2.10v2.00h-2.10zM455.13 338.10h2.10v2.00h-2.10zM461.61 338.10h2.10v2.00h-2.10zM468.09 338.10h2.10v2.00h-2.10zM474.57 338.10h2.10v2.00h-2.10zM481.05 338.10h2.10v2.00h-2.10zM487.53 338.10h2.10v2.00h-2.10zM494.01 338.10h2.10v2.00h-2.10zM500.49 338.10h2.10v2.00h-2.10zM506.97 338.10h2.10v2.00h-2.10zM513.45 338.10h2.10v2.00h-2.10zM519.93 338.10h2.10v2.00h-2.10zM526.41 338.10h2.10v2.00h-2.10zM532.89 338.10h2.10v2.00h-2.10zM539.37 338.10h2.10v2.00h-2.10zM545.85 338.10h2.10v2.00h-2.10zM552.33 338.10h2.10v2.00h-2.10zM558.81 338.10h2.10v2.00h-2.10zM565.29 338.10h2.10v2.00h-2.10zM571.77 338.10h2.10v2.00h-2.10zM578.25 338.10h2.10v2.00h-2.10zM584.73 338.10h2.10v2.00h-2.10zM591.21 338.10h2.10v2.00h-2.10zM597.69 338.10h2.10v2.00h-2.10zM604.17 338.10h2.10v2.00h-2.10zM610.65 338.10h2.10v2.00h-2.10zM617.13 338.10h2.10v2.00h-2.10zM623.61 338.10h2.10v2.00h-2.10zM630.09 338.10h2.10v2.00h-2.10zM636.57 338.10h2.10v2.00h-2.10zM643.05 338.10h2.10v2.00h-2.10zM649.53 338.10h2.10v2.00h-2.10zM656.01 338.10h2.10v2.00h-2.10zM662.49 338.10h2.10v2.00h-2.10zM668.97 338.10h2.10v2.00h-2.10zM675.45 338.10h2.10v2.00h-2.10z" fill="#bdbdbd"/>
<path d="M416.25 374.70h2.10v2.00h-2.10zM422.73 374.70h2.10v2.00h-2.10zM429.21 374.70h2.10v2.00h-2.10zM435.69 374.70h2.10v2.00h-2.10zM442.17 374.70h2.10v2.00h-2.10zM448.65 374.70h2.10v2.00h-2.10zM455.13 374.70h2.10v2.00h-2.10zM461.61 374.70h2.10v2.00h-2.10zM468.09 374.70h2.10v2.00h-2.10zM474.57 374.70h2.10v2.00h-2.10zM481.05 374.70h2.10v2.00h-2.10zM487.53 374.70h2.10v2.00h-2.10zM494.01 374.70h2.10v2.00h-2.10zM500.49 374.70h2.10v2.00h-2.10zM506.97 374.70h2.10v2.00h-2.10zM513.45 374.70h2.10v2.00h-2.10zM519.93 374.70h2.10v2.00h-2.10zM526.41 374.70h2.10v2.00h-2.10zM532.89 374.70h2.10v2.00h-2.10zM539.37 374.70h2.10v2.00h-2.10zM545.85 374.70h2.10v2.00h-2.10zM552.33 374.70h2.10v2.00h-2.10zM558.81 374.70h2.10v2.00h-2.10zM565.29 374.70h2.10v2.00h-2.10zM571.77 374.70h2.10v2.00h-2.10zM578.25 374.70h2.10v2.00h-2.10zM584.73 374.70h2.10v2.00h-2.10zM591.21 374.70h2.10v2.00h-2.10zM597.69 374.70h2.10v2.00h-2.10zM604.17 374.70h2.10v2.00h-2.10zM610.65 374.70h2.10v2.00h-2.10zM617.13 374.70h2.10v2.00h-2.10zM623.61 374.70h2.10v2.00h-2.10zM630.09 374.70h2.10v2.00h-2.10zM636.57 374.70h2.10v2.00h-2.10zM643.05 374.70h2.10v2.00h-2.10zM649.53 374.70h2.10v2.00h-2.10zM656.01 374.70h2.10v2.00h-2.10zM662.49 374.70h2.10v2.00h-2.10zM668.97 374.70h2.10v2.00h-2.10zM675.45 374.70h2.10v2.00h-2.10z" fill="#bdbdbd"/>
<path d="M416.25 411.40h2.10v2.00h-2.10zM422.73 411.40h2.10v2.00h-2.10zM429.21 411.40h2.10v2.00h-2.10zM435.69 411.40h2.10v2.00h-2.10zM442.17 411.40h2.10v2.00h-2.10zM448.65 411.40h2.10v2.00h-2.10zM455.13 411.40h2.10v2.00h-2.10zM461.61 411.40h2.10v2.00h-2.10zM468.09 411.40h2.10v2.00h-2.10zM474.57 411.40h2.10v2.00h-2.10zM481.05 411.40h2.10v2.00h-2.10zM487.53 411.40h2.10v2.00h-2.10zM494.01 411.40h2.10v2.00h-2.10zM500.49 411.40h2.10v2.00h-2.10zM506.97 411.40h2.10v2.00h-2.10zM513.45 411.40h2.10v2.00h-2.10zM519.93 411.40h2.10v2.00h-2.10zM526.41 411.40h2.10v2.00h-2.10zM532.89 411.40h2.10v2.00h-2.10zM539.37 411.40h2.10v2.00h-2.10zM545.85 411.40h2.10v2.00h-2.10zM552.33 411.40h2.10v2.00h-2.10zM558.81 411.40h2.10v2.00h-2.10zM565.29 411.40h2.10v2.00h-2.10zM571.77 411.40h2.10v2.00h-2.10zM578.25 411.40h2.10v2.00h-2.10zM584.73 411.40h2.10v2.00h-2.10zM591.21 411.40h2.10v2.00h-2.10zM597.69 411.40h2.10v2.00h-2.10zM604.17 411.40h2.10v2.00h-2.10zM610.65 411.40h2.10v2.00h-2.10zM617.13 411.40h2.10v2.00h-2.10zM623.61 411.40h2.10v2.00h-2.10zM630.09 411.40h2.10v2.00h-2.10zM636.57 411.40h2.10v2.00h-2.10zM643.05 411.40h2.10v2.00h-2.10zM649.53 411.40h2.10v2.00h-2.10zM656.01 411.40h2.10v2.00h-2.10zM662.49 411.40h2.10v2.00h-2.10zM668.97 411.40h2.10v2.00h-2.10zM675.45 411.40h2.10v2.00h-2.10z" fill="#bdbdbd"/>
<rect x="416.30" y="267.00" width="263.10" height="181.30" fill="none" stroke="#222" stroke-width="2.2"/>
<line x1="462.50" y1="448.30" x2="462.50" y2="454.60" stroke="#222" stroke-width="2"/>
<line x1="505.70" y1="448.30" x2="505.70" y2="454.60" stroke="#222" stroke-width="2"/>
<line x1="549.10" y1="448.30" x2="549.10" y2="454.60" stroke="#222" stroke-width="2"/>
<line x1="592.30" y1="448.30" x2="592.30" y2="454.60" stroke="#222" stroke-width="2"/>
<line x1="637.50" y1="448.30" x2="637.50" y2="454.60" stroke="#222" stroke-width="2"/>
<text x="410.10" y="270.90" font-size="11.1" font-weight="normal" text-anchor="end" fill="#222" >100,000</text>
<text x="410.10" y="306.20" font-size="11.1" font-weight="normal" text-anchor="end" fill="#222" >10,000</text>
<text x="410.10" y="343.00" font-size="11.1" font-weight="normal" text-anchor="end" fill="#222" >1000</text>
<text x="410.10" y="379.60" font-size="11.1" font-weight="normal" text-anchor="end" fill="#222" >100</text>
<text x="410.10" y="416.30" font-size="11.1" font-weight="normal" text-anchor="end" fill="#222" >10</text>
<text x="410.10" y="452.20" font-size="11.1" font-weight="normal" text-anchor="end" fill="#222" >1</text>
<text x="439.70" y="467.80" font-size="11.1" font-weight="normal" text-anchor="middle" fill="#222" >0</text>
<text x="482.70" y="467.80" font-size="11.1" font-weight="normal" text-anchor="middle" fill="#222" >1</text>
<text x="528.10" y="467.80" font-size="11.1" font-weight="normal" text-anchor="middle" fill="#222" >2</text>
<text x="571.50" y="467.80" font-size="11.1" font-weight="normal" text-anchor="middle" fill="#222" >4</text>
<text x="616.60" y="467.80" font-size="11.1" font-weight="normal" text-anchor="middle" fill="#222" >6</text>
<text x="660.20" y="467.80" font-size="11.1" font-weight="normal" text-anchor="middle" fill="#222" >8</text>
<text x="547.85" y="260.20" font-size="11.3" font-weight="bold" text-anchor="middle" fill="#222" >Cohort #4 - 4000 mg/day</text>
<text x="547.85" y="484.80" font-size="11.3" font-weight="bold" text-anchor="middle" fill="#222" >Time after intake (h)</text>
<text x="0.00" y="0.00" font-size="11.3" font-weight="bold" text-anchor="middle" fill="#222" transform="translate(361.00 351.20) rotate(-90)">LOG10 concentration (ng/ml)</text>
<polyline points="439.70,448.30 482.70,290.70 528.10,294.70 571.50,302.80 616.60,312.20 660.20,315.20" fill="none" stroke="#222" stroke-width="2.3" stroke-linejoin="miter"/>
<path d="M439.70 444.30L443.70 448.60L439.70 452.90L435.70 448.60Z" fill="#222"/>
<path d="M482.70 286.70L486.70 291.00L482.70 295.30L478.70 291.00Z" fill="#222"/>
<path d="M528.10 290.70L532.10 295.00L528.10 299.30L524.10 295.00Z" fill="#222"/>
<path d="M571.50 298.80L575.50 303.10L571.50 307.40L567.50 303.10Z" fill="#222"/>
<path d="M616.60 308.20L620.60 312.50L616.60 316.80L612.60 312.50Z" fill="#222"/>
<path d="M660.20 311.20L664.20 315.50L660.20 319.80L656.20 315.50Z" fill="#222"/>
<polyline points="439.70,327.80 482.70,280.50 528.10,295.40 571.50,298.00 616.60,315.20 660.20,323.40" fill="none" stroke="#a5a6a9" stroke-width="2.2" stroke-linejoin="miter"/>
<rect x="436.40" y="324.50" width="6.60" height="6.60" fill="#a5a6a9"/>
<rect x="479.40" y="277.20" width="6.60" height="6.60" fill="#a5a6a9"/>
<rect x="524.80" y="292.10" width="6.60" height="6.60" fill="#a5a6a9"/>
<rect x="568.20" y="294.70" width="6.60" height="6.60" fill="#a5a6a9"/>
<rect x="613.30" y="311.90" width="6.60" height="6.60" fill="#a5a6a9"/>
<rect x="656.90" y="320.10" width="6.60" height="6.60" fill="#a5a6a9"/>
<line x1="523.80" y1="430.10" x2="548.00" y2="430.10" stroke="#222" stroke-width="2.4"/>
<path d="M535.20 425.70L539.60 430.10L535.20 434.50L530.80 430.10Z" fill="#222"/>
<text x="552.70" y="432.80" font-size="9.4" font-weight="normal" text-anchor="start" fill="#222" >Day 1</text>
<line x1="586.90" y1="430.10" x2="610.60" y2="430.10" stroke="#a5a6a9" stroke-width="2.4"/>
<rect x="595.20" y="427.00" width="6.80" height="6.80" fill="#a5a6a9"/>
<text x="615.90" y="432.80" font-size="9.4" font-weight="normal" text-anchor="start" fill="#222" >Day 21</text>
<path d="M66.75 552.50h2.10v2.00h-2.10zM73.23 552.50h2.10v2.00h-2.10zM79.71 552.50h2.10v2.00h-2.10zM86.19 552.50h2.10v2.00h-2.10zM92.67 552.50h2.10v2.00h-2.10zM99.15 552.50h2.10v2.00h-2.10zM105.63 552.50h2.10v2.00h-2.10zM112.11 552.50h2.10v2.00h-2.10zM118.59 552.50h2.10v2.00h-2.10zM125.07 552.50h2.10v2.00h-2.10zM131.55 552.50h2.10v2.00h-2.10zM138.03 552.50h2.10v2.00h-2.10zM144.51 552.50h2.10v2.00h-2.10zM150.99 552.50h2.10v2.00h-2.10zM157.47 552.50h2.10v2.00h-2.10zM163.95 552.50h2.10v2.00h-2.10zM170.43 552.50h2.10v2.00h-2.10zM176.91 552.50h2.10v2.00h-2.10zM183.39 552.50h2.10v2.00h-2.10zM189.87 552.50h2.10v2.00h-2.10zM196.35 552.50h2.10v2.00h-2.10zM202.83 552.50h2.10v2.00h-2.10zM209.31 552.50h2.10v2.00h-2.10zM215.79 552.50h2.10v2.00h-2.10zM222.27 552.50h2.10v2.00h-2.10zM228.75 552.50h2.10v2.00h-2.10zM235.23 552.50h2.10v2.00h-2.10zM241.71 552.50h2.10v2.00h-2.10zM248.19 552.50h2.10v2.00h-2.10zM254.67 552.50h2.10v2.00h-2.10zM261.15 552.50h2.10v2.00h-2.10zM267.63 552.50h2.10v2.00h-2.10zM274.11 552.50h2.10v2.00h-2.10zM280.59 552.50h2.10v2.00h-2.10zM287.07 552.50h2.10v2.00h-2.10zM293.55 552.50h2.10v2.00h-2.10zM300.03 552.50h2.10v2.00h-2.10zM306.51 552.50h2.10v2.00h-2.10zM312.99 552.50h2.10v2.00h-2.10zM319.47 552.50h2.10v2.00h-2.10zM325.95 552.50h2.10v2.00h-2.10z" fill="#bdbdbd"/>
<path d="M66.75 589.30h2.10v2.00h-2.10zM73.23 589.30h2.10v2.00h-2.10zM79.71 589.30h2.10v2.00h-2.10zM86.19 589.30h2.10v2.00h-2.10zM92.67 589.30h2.10v2.00h-2.10zM99.15 589.30h2.10v2.00h-2.10zM105.63 589.30h2.10v2.00h-2.10zM112.11 589.30h2.10v2.00h-2.10zM118.59 589.30h2.10v2.00h-2.10zM125.07 589.30h2.10v2.00h-2.10zM131.55 589.30h2.10v2.00h-2.10zM138.03 589.30h2.10v2.00h-2.10zM144.51 589.30h2.10v2.00h-2.10zM150.99 589.30h2.10v2.00h-2.10zM157.47 589.30h2.10v2.00h-2.10zM163.95 589.30h2.10v2.00h-2.10zM170.43 589.30h2.10v2.00h-2.10zM176.91 589.30h2.10v2.00h-2.10zM183.39 589.30h2.10v2.00h-2.10zM189.87 589.30h2.10v2.00h-2.10zM196.35 589.30h2.10v2.00h-2.10zM202.83 589.30h2.10v2.00h-2.10zM209.31 589.30h2.10v2.00h-2.10zM215.79 589.30h2.10v2.00h-2.10zM222.27 589.30h2.10v2.00h-2.10zM228.75 589.30h2.10v2.00h-2.10zM235.23 589.30h2.10v2.00h-2.10zM241.71 589.30h2.10v2.00h-2.10zM248.19 589.30h2.10v2.00h-2.10zM254.67 589.30h2.10v2.00h-2.10zM261.15 589.30h2.10v2.00h-2.10zM267.63 589.30h2.10v2.00h-2.10zM274.11 589.30h2.10v2.00h-2.10zM280.59 589.30h2.10v2.00h-2.10zM287.07 589.30h2.10v2.00h-2.10zM293.55 589.30h2.10v2.00h-2.10zM300.03 589.30h2.10v2.00h-2.10zM306.51 589.30h2.10v2.00h-2.10zM312.99 589.30h2.10v2.00h-2.10zM319.47 589.30h2.10v2.00h-2.10zM325.95 589.30h2.10v2.00h-2.10z" fill="#bdbdbd"/>
<path d="M66.75 625.90h2.10v2.00h-2.10zM73.23 625.90h2.10v2.00h-2.10zM79.71 625.90h2.10v2.00h-2.10zM86.19 625.90h2.10v2.00h-2.10zM92.67 625.90h2.10v2.00h-2.10zM99.15 625.90h2.10v2.00h-2.10zM105.63 625.90h2.10v2.00h-2.10zM112.11 625.90h2.10v2.00h-2.10zM118.59 625.90h2.10v2.00h-2.10zM125.07 625.90h2.10v2.00h-2.10zM131.55 625.90h2.10v2.00h-2.10zM138.03 625.90h2.10v2.00h-2.10zM144.51 625.90h2.10v2.00h-2.10zM150.99 625.90h2.10v2.00h-2.10zM157.47 625.90h2.10v2.00h-2.10zM163.95 625.90h2.10v2.00h-2.10zM170.43 625.90h2.10v2.00h-2.10zM176.91 625.90h2.10v2.00h-2.10zM183.39 625.90h2.10v2.00h-2.10zM189.87 625.90h2.10v2.00h-2.10zM196.35 625.90h2.10v2.00h-2.10zM202.83 625.90h2.10v2.00h-2.10zM209.31 625.90h2.10v2.00h-2.10zM215.79 625.90h2.10v2.00h-2.10zM222.27 625.90h2.10v2.00h-2.10zM228.75 625.90h2.10v2.00h-2.10zM235.23 625.90h2.10v2.00h-2.10zM241.71 625.90h2.10v2.00h-2.10zM248.19 625.90h2.10v2.00h-2.10zM254.67 625.90h2.10v2.00h-2.10zM261.15 625.90h2.10v2.00h-2.10zM267.63 625.90h2.10v2.00h-2.10zM274.11 625.90h2.10v2.00h-2.10zM280.59 625.90h2.10v2.00h-2.10zM287.07 625.90h2.10v2.00h-2.10zM293.55 625.90h2.10v2.00h-2.10zM300.03 625.90h2.10v2.00h-2.10zM306.51 625.90h2.10v2.00h-2.10zM312.99 625.90h2.10v2.00h-2.10zM319.47 625.90h2.10v2.00h-2.10zM325.95 625.90h2.10v2.00h-2.10z" fill="#bdbdbd"/>
<path d="M66.75 662.60h2.10v2.00h-2.10zM73.23 662.60h2.10v2.00h-2.10zM79.71 662.60h2.10v2.00h-2.10zM86.19 662.60h2.10v2.00h-2.10zM92.67 662.60h2.10v2.00h-2.10zM99.15 662.60h2.10v2.00h-2.10zM105.63 662.60h2.10v2.00h-2.10zM112.11 662.60h2.10v2.00h-2.10zM118.59 662.60h2.10v2.00h-2.10zM125.07 662.60h2.10v2.00h-2.10zM131.55 662.60h2.10v2.00h-2.10zM138.03 662.60h2.10v2.00h-2.10zM144.51 662.60h2.10v2.00h-2.10zM150.99 662.60h2.10v2.00h-2.10zM157.47 662.60h2.10v2.00h-2.10zM163.95 662.60h2.10v2.00h-2.10zM170.43 662.60h2.10v2.00h-2.10zM176.91 662.60h2.10v2.00h-2.10zM183.39 662.60h2.10v2.00h-2.10zM189.87 662.60h2.10v2.00h-2.10zM196.35 662.60h2.10v2.00h-2.10zM202.83 662.60h2.10v2.00h-2.10zM209.31 662.60h2.10v2.00h-2.10zM215.79 662.60h2.10v2.00h-2.10zM222.27 662.60h2.10v2.00h-2.10zM228.75 662.60h2.10v2.00h-2.10zM235.23 662.60h2.10v2.00h-2.10zM241.71 662.60h2.10v2.00h-2.10zM248.19 662.60h2.10v2.00h-2.10zM254.67 662.60h2.10v2.00h-2.10zM261.15 662.60h2.10v2.00h-2.10zM267.63 662.60h2.10v2.00h-2.10zM274.11 662.60h2.10v2.00h-2.10zM280.59 662.60h2.10v2.00h-2.10zM287.07 662.60h2.10v2.00h-2.10zM293.55 662.60h2.10v2.00h-2.10zM300.03 662.60h2.10v2.00h-2.10zM306.51 662.60h2.10v2.00h-2.10zM312.99 662.60h2.10v2.00h-2.10zM319.47 662.60h2.10v2.00h-2.10zM325.95 662.60h2.10v2.00h-2.10z" fill="#bdbdbd"/>
<rect x="66.80" y="518.20" width="263.60" height="181.30" fill="none" stroke="#222" stroke-width="2.2"/>
<line x1="113.00" y1="699.50" x2="113.00" y2="705.80" stroke="#222" stroke-width="2"/>
<line x1="156.20" y1="699.50" x2="156.20" y2="705.80" stroke="#222" stroke-width="2"/>
<line x1="199.60" y1="699.50" x2="199.60" y2="705.80" stroke="#222" stroke-width="2"/>
<line x1="242.80" y1="699.50" x2="242.80" y2="705.80" stroke="#222" stroke-width="2"/>
<line x1="288.00" y1="699.50" x2="288.00" y2="705.80" stroke="#222" stroke-width="2"/>
<text x="61.50" y="522.10" font-size="11.1" font-weight="normal" text-anchor="end" fill="#222" >100,000</text>
<text x="61.50" y="557.40" font-size="11.1" font-weight="normal" text-anchor="end" fill="#222" >10,000</text>
<text x="61.50" y="594.20" font-size="11.1" font-weight="normal" text-anchor="end" fill="#222" >1000</text>
<text x="61.50" y="630.80" font-size="11.1" font-weight="normal" text-anchor="end" fill="#222" >100</text>
<text x="61.50" y="667.50" font-size="11.1" font-weight="normal" text-anchor="end" fill="#222" >10</text>
<text x="61.50" y="703.40" font-size="11.1" font-weight="normal" text-anchor="end" fill="#222" >1</text>
<text x="90.30" y="719.40" font-size="11.1" font-weight="normal" text-anchor="middle" fill="#222" >0</text>
<text x="133.30" y="719.40" font-size="11.1" font-weight="normal" text-anchor="middle" fill="#222" >1</text>
<text x="178.70" y="719.40" font-size="11.1" font-weight="normal" text-anchor="middle" fill="#222" >2</text>
<text x="222.10" y="719.40" font-size="11.1" font-weight="normal" text-anchor="middle" fill="#222" >4</text>
<text x="267.20" y="719.40" font-size="11.1" font-weight="normal" text-anchor="middle" fill="#222" >6</text>
<text x="310.80" y="719.40" font-size="11.1" font-weight="normal" text-anchor="middle" fill="#222" >8</text>
<text x="198.60" y="511.40" font-size="11.3" font-weight="bold" text-anchor="middle" fill="#222" >Cohort #5 - 8000 mg/day</text>
<text x="198.60" y="736.40" font-size="11.3" font-weight="bold" text-anchor="middle" fill="#222" >Time after intake (h)</text>
<text x="0.00" y="0.00" font-size="11.3" font-weight="bold" text-anchor="middle" fill="#222" transform="translate(9.80 611.50) rotate(-90)">LOG10 concentration (ng/ml)</text>
<polyline points="90.30,699.50 133.30,555.40 178.70,554.70 222.10,554.50 267.20,562.90 310.80,553.70" fill="none" stroke="#222" stroke-width="2.3" stroke-linejoin="miter"/>
<path d="M90.30 695.50L94.30 699.80L90.30 704.10L86.30 699.80Z" fill="#222"/>
<path d="M133.30 551.40L137.30 555.70L133.30 560.00L129.30 555.70Z" fill="#222"/>
<path d="M178.70 550.70L182.70 555.00L178.70 559.30L174.70 555.00Z" fill="#222"/>
<path d="M222.10 550.50L226.10 554.80L222.10 559.10L218.10 554.80Z" fill="#222"/>
<path d="M267.20 558.90L271.20 563.20L267.20 567.50L263.20 563.20Z" fill="#222"/>
<path d="M310.80 549.70L314.80 554.00L310.80 558.30L306.80 554.00Z" fill="#222"/>
<polyline points="90.30,570.00 133.30,556.30 178.70,555.00 222.10,554.50 267.20,545.20 310.80,546.30" fill="none" stroke="#a5a6a9" stroke-width="2.2" stroke-linejoin="miter"/>
<rect x="87.00" y="566.70" width="6.60" height="6.60" fill="#a5a6a9"/>
<rect x="130.00" y="553.00" width="6.60" height="6.60" fill="#a5a6a9"/>
<rect x="175.40" y="551.70" width="6.60" height="6.60" fill="#a5a6a9"/>
<rect x="218.80" y="551.20" width="6.60" height="6.60" fill="#a5a6a9"/>
<rect x="263.90" y="541.90" width="6.60" height="6.60" fill="#a5a6a9"/>
<rect x="307.50" y="543.00" width="6.60" height="6.60" fill="#a5a6a9"/>
<line x1="174.30" y1="681.30" x2="198.50" y2="681.30" stroke="#222" stroke-width="2.4"/>
<path d="M185.70 676.90L190.10 681.30L185.70 685.70L181.30 681.30Z" fill="#222"/>
<text x="203.20" y="684.00" font-size="9.4" font-weight="normal" text-anchor="start" fill="#222" >Day 1</text>
<line x1="237.40" y1="681.30" x2="261.10" y2="681.30" stroke="#a5a6a9" stroke-width="2.4"/>
<rect x="245.70" y="678.20" width="6.80" height="6.80" fill="#a5a6a9"/>
<text x="266.40" y="684.00" font-size="9.4" font-weight="normal" text-anchor="start" fill="#222" >Day 21</text>
<path d="M416.25 552.50h2.10v2.00h-2.10zM422.73 552.50h2.10v2.00h-2.10zM429.21 552.50h2.10v2.00h-2.10zM435.69 552.50h2.10v2.00h-2.10zM442.17 552.50h2.10v2.00h-2.10zM448.65 552.50h2.10v2.00h-2.10zM455.13 552.50h2.10v2.00h-2.10zM461.61 552.50h2.10v2.00h-2.10zM468.09 552.50h2.10v2.00h-2.10zM474.57 552.50h2.10v2.00h-2.10zM481.05 552.50h2.10v2.00h-2.10zM487.53 552.50h2.10v2.00h-2.10zM494.01 552.50h2.10v2.00h-2.10zM500.49 552.50h2.10v2.00h-2.10zM506.97 552.50h2.10v2.00h-2.10zM513.45 552.50h2.10v2.00h-2.10zM519.93 552.50h2.10v2.00h-2.10zM526.41 552.50h2.10v2.00h-2.10zM532.89 552.50h2.10v2.00h-2.10zM539.37 552.50h2.10v2.00h-2.10zM545.85 552.50h2.10v2.00h-2.10zM552.33 552.50h2.10v2.00h-2.10zM558.81 552.50h2.10v2.00h-2.10zM565.29 552.50h2.10v2.00h-2.10zM571.77 552.50h2.10v2.00h-2.10zM578.25 552.50h2.10v2.00h-2.10zM584.73 552.50h2.10v2.00h-2.10zM591.21 552.50h2.10v2.00h-2.10zM597.69 552.50h2.10v2.00h-2.10zM604.17 552.50h2.10v2.00h-2.10zM610.65 552.50h2.10v2.00h-2.10zM617.13 552.50h2.10v2.00h-2.10zM623.61 552.50h2.10v2.00h-2.10zM630.09 552.50h2.10v2.00h-2.10zM636.57 552.50h2.10v2.00h-2.10zM643.05 552.50h2.10v2.00h-2.10zM649.53 552.50h2.10v2.00h-2.10zM656.01 552.50h2.10v2.00h-2.10zM662.49 552.50h2.10v2.00h-2.10zM668.97 552.50h2.10v2.00h-2.10zM675.45 552.50h2.10v2.00h-2.10z" fill="#bdbdbd"/>
<path d="M416.25 589.30h2.10v2.00h-2.10zM422.73 589.30h2.10v2.00h-2.10zM429.21 589.30h2.10v2.00h-2.10zM435.69 589.30h2.10v2.00h-2.10zM442.17 589.30h2.10v2.00h-2.10zM448.65 589.30h2.10v2.00h-2.10zM455.13 589.30h2.10v2.00h-2.10zM461.61 589.30h2.10v2.00h-2.10zM468.09 589.30h2.10v2.00h-2.10zM474.57 589.30h2.10v2.00h-2.10zM481.05 589.30h2.10v2.00h-2.10zM487.53 589.30h2.10v2.00h-2.10zM494.01 589.30h2.10v2.00h-2.10zM500.49 589.30h2.10v2.00h-2.10zM506.97 589.30h2.10v2.00h-2.10zM513.45 589.30h2.10v2.00h-2.10zM519.93 589.30h2.10v2.00h-2.10zM526.41 589.30h2.10v2.00h-2.10zM532.89 589.30h2.10v2.00h-2.10zM539.37 589.30h2.10v2.00h-2.10zM545.85 589.30h2.10v2.00h-2.10zM552.33 589.30h2.10v2.00h-2.10zM558.81 589.30h2.10v2.00h-2.10zM565.29 589.30h2.10v2.00h-2.10zM571.77 589.30h2.10v2.00h-2.10zM578.25 589.30h2.10v2.00h-2.10zM584.73 589.30h2.10v2.00h-2.10zM591.21 589.30h2.10v2.00h-2.10zM597.69 589.30h2.10v2.00h-2.10zM604.17 589.30h2.10v2.00h-2.10zM610.65 589.30h2.10v2.00h-2.10zM617.13 589.30h2.10v2.00h-2.10zM623.61 589.30h2.10v2.00h-2.10zM630.09 589.30h2.10v2.00h-2.10zM636.57 589.30h2.10v2.00h-2.10zM643.05 589.30h2.10v2.00h-2.10zM649.53 589.30h2.10v2.00h-2.10zM656.01 589.30h2.10v2.00h-2.10zM662.49 589.30h2.10v2.00h-2.10zM668.97 589.30h2.10v2.00h-2.10zM675.45 589.30h2.10v2.00h-2.10z" fill="#bdbdbd"/>
<path d="M416.25 625.90h2.10v2.00h-2.10zM422.73 625.90h2.10v2.00h-2.10zM429.21 625.90h2.10v2.00h-2.10zM435.69 625.90h2.10v2.00h-2.10zM442.17 625.90h2.10v2.00h-2.10zM448.65 625.90h2.10v2.00h-2.10zM455.13 625.90h2.10v2.00h-2.10zM461.61 625.90h2.10v2.00h-2.10zM468.09 625.90h2.10v2.00h-2.10zM474.57 625.90h2.10v2.00h-2.10zM481.05 625.90h2.10v2.00h-2.10zM487.53 625.90h2.10v2.00h-2.10zM494.01 625.90h2.10v2.00h-2.10zM500.49 625.90h2.10v2.00h-2.10zM506.97 625.90h2.10v2.00h-2.10zM513.45 625.90h2.10v2.00h-2.10zM519.93 625.90h2.10v2.00h-2.10zM526.41 625.90h2.10v2.00h-2.10zM532.89 625.90h2.10v2.00h-2.10zM539.37 625.90h2.10v2.00h-2.10zM545.85 625.90h2.10v2.00h-2.10zM552.33 625.90h2.10v2.00h-2.10zM558.81 625.90h2.10v2.00h-2.10zM565.29 625.90h2.10v2.00h-2.10zM571.77 625.90h2.10v2.00h-2.10zM578.25 625.90h2.10v2.00h-2.10zM584.73 625.90h2.10v2.00h-2.10zM591.21 625.90h2.10v2.00h-2.10zM597.69 625.90h2.10v2.00h-2.10zM604.17 625.90h2.10v2.00h-2.10zM610.65 625.90h2.10v2.00h-2.10zM617.13 625.90h2.10v2.00h-2.10zM623.61 625.90h2.10v2.00h-2.10zM630.09 625.90h2.10v2.00h-2.10zM636.57 625.90h2.10v2.00h-2.10zM643.05 625.90h2.10v2.00h-2.10zM649.53 625.90h2.10v2.00h-2.10zM656.01 625.90h2.10v2.00h-2.10zM662.49 625.90h2.10v2.00h-2.10zM668.97 625.90h2.10v2.00h-2.10zM675.45 625.90h2.10v2.00h-2.10z" fill="#bdbdbd"/>
<path d="M416.25 662.60h2.10v2.00h-2.10zM422.73 662.60h2.10v2.00h-2.10zM429.21 662.60h2.10v2.00h-2.10zM435.69 662.60h2.10v2.00h-2.10zM442.17 662.60h2.10v2.00h-2.10zM448.65 662.60h2.10v2.00h-2.10zM455.13 662.60h2.10v2.00h-2.10zM461.61 662.60h2.10v2.00h-2.10zM468.09 662.60h2.10v2.00h-2.10zM474.57 662.60h2.10v2.00h-2.10zM481.05 662.60h2.10v2.00h-2.10zM487.53 662.60h2.10v2.00h-2.10zM494.01 662.60h2.10v2.00h-2.10zM500.49 662.60h2.10v2.00h-2.10zM506.97 662.60h2.10v2.00h-2.10zM513.45 662.60h2.10v2.00h-2.10zM519.93 662.60h2.10v2.00h-2.10zM526.41 662.60h2.10v2.00h-2.10zM532.89 662.60h2.10v2.00h-2.10zM539.37 662.60h2.10v2.00h-2.10zM545.85 662.60h2.10v2.00h-2.10zM552.33 662.60h2.10v2.00h-2.10zM558.81 662.60h2.10v2.00h-2.10zM565.29 662.60h2.10v2.00h-2.10zM571.77 662.60h2.10v2.00h-2.10zM578.25 662.60h2.10v2.00h-2.10zM584.73 662.60h2.10v2.00h-2.10zM591.21 662.60h2.10v2.00h-2.10zM597.69 662.60h2.10v2.00h-2.10zM604.17 662.60h2.10v2.00h-2.10zM610.65 662.60h2.10v2.00h-2.10zM617.13 662.60h2.10v2.00h-2.10zM623.61 662.60h2.10v2.00h-2.10zM630.09 662.60h2.10v2.00h-2.10zM636.57 662.60h2.10v2.00h-2.10zM643.05 662.60h2.10v2.00h-2.10zM649.53 662.60h2.10v2.00h-2.10zM656.01 662.60h2.10v2.00h-2.10zM662.49 662.60h2.10v2.00h-2.10zM668.97 662.60h2.10v2.00h-2.10zM675.45 662.60h2.10v2.00h-2.10z" fill="#bdbdbd"/>
<rect x="416.30" y="518.20" width="263.10" height="181.30" fill="none" stroke="#222" stroke-width="2.2"/>
<line x1="462.50" y1="699.50" x2="462.50" y2="705.80" stroke="#222" stroke-width="2"/>
<line x1="505.70" y1="699.50" x2="505.70" y2="705.80" stroke="#222" stroke-width="2"/>
<line x1="549.10" y1="699.50" x2="549.10" y2="705.80" stroke="#222" stroke-width="2"/>
<line x1="592.30" y1="699.50" x2="592.30" y2="705.80" stroke="#222" stroke-width="2"/>
<line x1="637.50" y1="699.50" x2="637.50" y2="705.80" stroke="#222" stroke-width="2"/>
<text x="410.10" y="522.10" font-size="11.1" font-weight="normal" text-anchor="end" fill="#222" >100,000</text>
<text x="410.10" y="557.40" font-size="11.1" font-weight="normal" text-anchor="end" fill="#222" >10,000</text>
<text x="410.10" y="594.20" font-size="11.1" font-weight="normal" text-anchor="end" fill="#222" >1000</text>
<text x="410.10" y="630.80" font-size="11.1" font-weight="normal" text-anchor="end" fill="#222" >100</text>
<text x="410.10" y="667.50" font-size="11.1" font-weight="normal" text-anchor="end" fill="#222" >10</text>
<text x="410.10" y="703.40" font-size="11.1" font-weight="normal" text-anchor="end" fill="#222" >1</text>
<text x="439.70" y="719.40" font-size="11.1" font-weight="normal" text-anchor="middle" fill="#222" >0</text>
<text x="482.70" y="719.40" font-size="11.1" font-weight="normal" text-anchor="middle" fill="#222" >1</text>
<text x="528.10" y="719.40" font-size="11.1" font-weight="normal" text-anchor="middle" fill="#222" >2</text>
<text x="571.50" y="719.40" font-size="11.1" font-weight="normal" text-anchor="middle" fill="#222" >4</text>
<text x="616.60" y="719.40" font-size="11.1" font-weight="normal" text-anchor="middle" fill="#222" >6</text>
<text x="660.20" y="719.40" font-size="11.1" font-weight="normal" text-anchor="middle" fill="#222" >8</text>
<text x="547.85" y="511.40" font-size="11.3" font-weight="bold" text-anchor="middle" fill="#222" >Cohort #6 - 12,000 mg/day</text>
<text x="547.85" y="736.40" font-size="11.3" font-weight="bold" text-anchor="middle" fill="#222" >Time after intake (h)</text>
<text x="0.00" y="0.00" font-size="11.3" font-weight="bold" text-anchor="middle" fill="#222" transform="translate(361.00 602.40) rotate(-90)">LOG10 concentration (ng/ml)</text>
<polyline points="439.70,699.50 482.70,553.00 528.10,552.20 571.50,552.30 616.60,549.70 660.20,548.80" fill="none" stroke="#222" stroke-width="2.3" stroke-linejoin="miter"/>
<path d="M439.70 695.50L443.70 699.80L439.70 704.10L435.70 699.80Z" fill="#222"/>
<path d="M482.70 549.00L486.70 553.30L482.70 557.60L478.70 553.30Z" fill="#222"/>
<path d="M528.10 548.20L532.10 552.50L528.10 556.80L524.10 552.50Z" fill="#222"/>
<path d="M571.50 548.30L575.50 552.60L571.50 556.90L567.50 552.60Z" fill="#222"/>
<path d="M616.60 545.70L620.60 550.00L616.60 554.30L612.60 550.00Z" fill="#222"/>
<path d="M660.20 544.80L664.20 549.10L660.20 553.40L656.20 549.10Z" fill="#222"/>
<polyline points="439.70,546.40 482.70,539.90 528.10,538.50 571.50,537.20 616.60,537.20 660.20,535.10" fill="none" stroke="#a5a6a9" stroke-width="2.2" stroke-linejoin="miter"/>
<rect x="436.40" y="543.10" width="6.60" height="6.60" fill="#a5a6a9"/>
<rect x="479.40" y="536.60" width="6.60" height="6.60" fill="#a5a6a9"/>
<rect x="524.80" y="535.20" width="6.60" height="6.60" fill="#a5a6a9"/>
<rect x="568.20" y="533.90" width="6.60" height="6.60" fill="#a5a6a9"/>
<rect x="613.30" y="533.90" width="6.60" height="6.60" fill="#a5a6a9"/>
<rect x="656.90" y="531.80" width="6.60" height="6.60" fill="#a5a6a9"/>
<line x1="523.80" y1="681.30" x2="548.00" y2="681.30" stroke="#222" stroke-width="2.4"/>
<path d="M535.20 676.90L539.60 681.30L535.20 685.70L530.80 681.30Z" fill="#222"/>
<text x="552.70" y="684.00" font-size="9.4" font-weight="normal" text-anchor="start" fill="#222" >Day 1</text>
<line x1="586.90" y1="681.30" x2="610.60" y2="681.30" stroke="#a5a6a9" stroke-width="2.4"/>
<rect x="595.20" y="678.20" width="6.80" height="6.80" fill="#a5a6a9"/>
<text x="615.90" y="684.00" font-size="9.4" font-weight="normal" text-anchor="start" fill="#222" >Day 21</text>
<path d="M66.75 802.60h2.10v2.00h-2.10zM73.23 802.60h2.10v2.00h-2.10zM79.71 802.60h2.10v2.00h-2.10zM86.19 802.60h2.10v2.00h-2.10zM92.67 802.60h2.10v2.00h-2.10zM99.15 802.60h2.10v2.00h-2.10zM105.63 802.60h2.10v2.00h-2.10zM112.11 802.60h2.10v2.00h-2.10zM118.59 802.60h2.10v2.00h-2.10zM125.07 802.60h2.10v2.00h-2.10zM131.55 802.60h2.10v2.00h-2.10zM138.03 802.60h2.10v2.00h-2.10zM144.51 802.60h2.10v2.00h-2.10zM150.99 802.60h2.10v2.00h-2.10zM157.47 802.60h2.10v2.00h-2.10zM163.95 802.60h2.10v2.00h-2.10zM170.43 802.60h2.10v2.00h-2.10zM176.91 802.60h2.10v2.00h-2.10zM183.39 802.60h2.10v2.00h-2.10zM189.87 802.60h2.10v2.00h-2.10zM196.35 802.60h2.10v2.00h-2.10zM202.83 802.60h2.10v2.00h-2.10zM209.31 802.60h2.10v2.00h-2.10zM215.79 802.60h2.10v2.00h-2.10zM222.27 802.60h2.10v2.00h-2.10zM228.75 802.60h2.10v2.00h-2.10zM235.23 802.60h2.10v2.00h-2.10zM241.71 802.60h2.10v2.00h-2.10zM248.19 802.60h2.10v2.00h-2.10zM254.67 802.60h2.10v2.00h-2.10zM261.15 802.60h2.10v2.00h-2.10zM267.63 802.60h2.10v2.00h-2.10zM274.11 802.60h2.10v2.00h-2.10zM280.59 802.60h2.10v2.00h-2.10zM287.07 802.60h2.10v2.00h-2.10zM293.55 802.60h2.10v2.00h-2.10zM300.03 802.60h2.10v2.00h-2.10zM306.51 802.60h2.10v2.00h-2.10zM312.99 802.60h2.10v2.00h-2.10zM319.47 802.60h2.10v2.00h-2.10zM325.95 802.60h2.10v2.00h-2.10z" fill="#bdbdbd"/>
<path d="M66.75 839.40h2.10v2.00h-2.10zM73.23 839.40h2.10v2.00h-2.10zM79.71 839.40h2.10v2.00h-2.10zM86.19 839.40h2.10v2.00h-2.10zM92.67 839.40h2.10v2.00h-2.10zM99.15 839.40h2.10v2.00h-2.10zM105.63 839.40h2.10v2.00h-2.10zM112.11 839.40h2.10v2.00h-2.10zM118.59 839.40h2.10v2.00h-2.10zM125.07 839.40h2.10v2.00h-2.10zM131.55 839.40h2.10v2.00h-2.10zM138.03 839.40h2.10v2.00h-2.10zM144.51 839.40h2.10v2.00h-2.10zM150.99 839.40h2.10v2.00h-2.10zM157.47 839.40h2.10v2.00h-2.10zM163.95 839.40h2.10v2.00h-2.10zM170.43 839.40h2.10v2.00h-2.10zM176.91 839.40h2.10v2.00h-2.10zM183.39 839.40h2.10v2.00h-2.10zM189.87 839.40h2.10v2.00h-2.10zM196.35 839.40h2.10v2.00h-2.10zM202.83 839.40h2.10v2.00h-2.10zM209.31 839.40h2.10v2.00h-2.10zM215.79 839.40h2.10v2.00h-2.10zM222.27 839.40h2.10v2.00h-2.10zM228.75 839.40h2.10v2.00h-2.10zM235.23 839.40h2.10v2.00h-2.10zM241.71 839.40h2.10v2.00h-2.10zM248.19 839.40h2.10v2.00h-2.10zM254.67 839.40h2.10v2.00h-2.10zM261.15 839.40h2.10v2.00h-2.10zM267.63 839.40h2.10v2.00h-2.10zM274.11 839.40h2.10v2.00h-2.10zM280.59 839.40h2.10v2.00h-2.10zM287.07 839.40h2.10v2.00h-2.10zM293.55 839.40h2.10v2.00h-2.10zM300.03 839.40h2.10v2.00h-2.10zM306.51 839.40h2.10v2.00h-2.10zM312.99 839.40h2.10v2.00h-2.10zM319.47 839.40h2.10v2.00h-2.10zM325.95 839.40h2.10v2.00h-2.10z" fill="#bdbdbd"/>
<path d="M66.75 876.00h2.10v2.00h-2.10zM73.23 876.00h2.10v2.00h-2.10zM79.71 876.00h2.10v2.00h-2.10zM86.19 876.00h2.10v2.00h-2.10zM92.67 876.00h2.10v2.00h-2.10zM99.15 876.00h2.10v2.00h-2.10zM105.63 876.00h2.10v2.00h-2.10zM112.11 876.00h2.10v2.00h-2.10zM118.59 876.00h2.10v2.00h-2.10zM125.07 876.00h2.10v2.00h-2.10zM131.55 876.00h2.10v2.00h-2.10zM138.03 876.00h2.10v2.00h-2.10zM144.51 876.00h2.10v2.00h-2.10zM150.99 876.00h2.10v2.00h-2.10zM157.47 876.00h2.10v2.00h-2.10zM163.95 876.00h2.10v2.00h-2.10zM170.43 876.00h2.10v2.00h-2.10zM176.91 876.00h2.10v2.00h-2.10zM183.39 876.00h2.10v2.00h-2.10zM189.87 876.00h2.10v2.00h-2.10zM196.35 876.00h2.10v2.00h-2.10zM202.83 876.00h2.10v2.00h-2.10zM209.31 876.00h2.10v2.00h-2.10zM215.79 876.00h2.10v2.00h-2.10zM222.27 876.00h2.10v2.00h-2.10zM228.75 876.00h2.10v2.00h-2.10zM235.23 876.00h2.10v2.00h-2.10zM241.71 876.00h2.10v2.00h-2.10zM248.19 876.00h2.10v2.00h-2.10zM254.67 876.00h2.10v2.00h-2.10zM261.15 876.00h2.10v2.00h-2.10zM267.63 876.00h2.10v2.00h-2.10zM274.11 876.00h2.10v2.00h-2.10zM280.59 876.00h2.10v2.00h-2.10zM287.07 876.00h2.10v2.00h-2.10zM293.55 876.00h2.10v2.00h-2.10zM300.03 876.00h2.10v2.00h-2.10zM306.51 876.00h2.10v2.00h-2.10zM312.99 876.00h2.10v2.00h-2.10zM319.47 876.00h2.10v2.00h-2.10zM325.95 876.00h2.10v2.00h-2.10z" fill="#bdbdbd"/>
<path d="M66.75 912.70h2.10v2.00h-2.10zM73.23 912.70h2.10v2.00h-2.10zM79.71 912.70h2.10v2.00h-2.10zM86.19 912.70h2.10v2.00h-2.10zM92.67 912.70h2.10v2.00h-2.10zM99.15 912.70h2.10v2.00h-2.10zM105.63 912.70h2.10v2.00h-2.10zM112.11 912.70h2.10v2.00h-2.10zM118.59 912.70h2.10v2.00h-2.10zM125.07 912.70h2.10v2.00h-2.10zM131.55 912.70h2.10v2.00h-2.10zM138.03 912.70h2.10v2.00h-2.10zM144.51 912.70h2.10v2.00h-2.10zM150.99 912.70h2.10v2.00h-2.10zM157.47 912.70h2.10v2.00h-2.10zM163.95 912.70h2.10v2.00h-2.10zM170.43 912.70h2.10v2.00h-2.10zM176.91 912.70h2.10v2.00h-2.10zM183.39 912.70h2.10v2.00h-2.10zM189.87 912.70h2.10v2.00h-2.10zM196.35 912.70h2.10v2.00h-2.10zM202.83 912.70h2.10v2.00h-2.10zM209.31 912.70h2.10v2.00h-2.10zM215.79 912.70h2.10v2.00h-2.10zM222.27 912.70h2.10v2.00h-2.10zM228.75 912.70h2.10v2.00h-2.10zM235.23 912.70h2.10v2.00h-2.10zM241.71 912.70h2.10v2.00h-2.10zM248.19 912.70h2.10v2.00h-2.10zM254.67 912.70h2.10v2.00h-2.10zM261.15 912.70h2.10v2.00h-2.10zM267.63 912.70h2.10v2.00h-2.10zM274.11 912.70h2.10v2.00h-2.10zM280.59 912.70h2.10v2.00h-2.10zM287.07 912.70h2.10v2.00h-2.10zM293.55 912.70h2.10v2.00h-2.10zM300.03 912.70h2.10v2.00h-2.10zM306.51 912.70h2.10v2.00h-2.10zM312.99 912.70h2.10v2.00h-2.10zM319.47 912.70h2.10v2.00h-2.10zM325.95 912.70h2.10v2.00h-2.10z" fill="#bdbdbd"/>
<rect x="66.80" y="768.30" width="263.60" height="181.30" fill="none" stroke="#222" stroke-width="2.2"/>
<line x1="113.00" y1="949.60" x2="113.00" y2="955.90" stroke="#222" stroke-width="2"/>
<line x1="156.20" y1="949.60" x2="156.20" y2="955.90" stroke="#222" stroke-width="2"/>
<line x1="199.60" y1="949.60" x2="199.60" y2="955.90" stroke="#222" stroke-width="2"/>
<line x1="242.80" y1="949.60" x2="242.80" y2="955.90" stroke="#222" stroke-width="2"/>
<line x1="288.00" y1="949.60" x2="288.00" y2="955.90" stroke="#222" stroke-width="2"/>
<text x="61.50" y="772.20" font-size="11.1" font-weight="normal" text-anchor="end" fill="#222" >100,000</text>
<text x="61.50" y="807.50" font-size="11.1" font-weight="normal" text-anchor="end" fill="#222" >10,000</text>
<text x="61.50" y="844.30" font-size="11.1" font-weight="normal" text-anchor="end" fill="#222" >1000</text>
<text x="61.50" y="880.90" font-size="11.1" font-weight="normal" text-anchor="end" fill="#222" >100</text>
<text x="61.50" y="917.60" font-size="11.1" font-weight="normal" text-anchor="end" fill="#222" >10</text>
<text x="61.50" y="953.50" font-size="11.1" font-weight="normal" text-anchor="end" fill="#222" >1</text>
<text x="90.30" y="969.90" font-size="11.1" font-weight="normal" text-anchor="middle" fill="#222" >0</text>
<text x="133.30" y="969.90" font-size="11.1" font-weight="normal" text-anchor="middle" fill="#222" >1</text>
<text x="178.70" y="969.90" font-size="11.1" font-weight="normal" text-anchor="middle" fill="#222" >2</text>
<text x="222.10" y="969.90" font-size="11.1" font-weight="normal" text-anchor="middle" fill="#222" >4</text>
<text x="267.20" y="969.90" font-size="11.1" font-weight="normal" text-anchor="middle" fill="#222" >6</text>
<text x="310.80" y="969.90" font-size="11.1" font-weight="normal" text-anchor="middle" fill="#222" >8</text>
<text x="198.60" y="761.50" font-size="11.3" font-weight="bold" text-anchor="middle" fill="#222" >Cohort #7 - 16,000 mg/day</text>
<text x="198.60" y="986.80" font-size="11.3" font-weight="bold" text-anchor="middle" fill="#222" >Time after intake (h)</text>
<text x="0.00" y="0.00" font-size="11.3" font-weight="bold" text-anchor="middle" fill="#222" transform="translate(9.80 861.60) rotate(-90)">LOG10 concentration (ng/ml)</text>
<polyline points="90.30,949.60 133.30,796.60 178.70,797.50 222.10,797.70 267.20,792.40 310.80,793.30" fill="none" stroke="#222" stroke-width="2.3" stroke-linejoin="miter"/>
<path d="M90.30 945.60L94.30 949.90L90.30 954.20L86.30 949.90Z" fill="#222"/>
<path d="M133.30 792.60L137.30 796.90L133.30 801.20L129.30 796.90Z" fill="#222"/>
<path d="M178.70 793.50L182.70 797.80L178.70 802.10L174.70 797.80Z" fill="#222"/>
<path d="M222.10 793.70L226.10 798.00L222.10 802.30L218.10 798.00Z" fill="#222"/>
<path d="M267.20 788.40L271.20 792.70L267.20 797.00L263.20 792.70Z" fill="#222"/>
<path d="M310.80 789.30L314.80 793.60L310.80 797.90L306.80 793.60Z" fill="#222"/>
<polyline points="90.30,800.70 133.30,788.40 178.70,788.40 222.10,788.70 267.20,784.50 310.80,793.30" fill="none" stroke="#a5a6a9" stroke-width="2.2" stroke-linejoin="miter"/>
<rect x="87.00" y="797.40" width="6.60" height="6.60" fill="#a5a6a9"/>
<rect x="130.00" y="785.10" width="6.60" height="6.60" fill="#a5a6a9"/>
<rect x="175.40" y="785.10" width="6.60" height="6.60" fill="#a5a6a9"/>
<rect x="218.80" y="785.40" width="6.60" height="6.60" fill="#a5a6a9"/>
<rect x="263.90" y="781.20" width="6.60" height="6.60" fill="#a5a6a9"/>
<rect x="307.50" y="790.00" width="6.60" height="6.60" fill="#a5a6a9"/>
<line x1="174.30" y1="931.40" x2="198.50" y2="931.40" stroke="#222" stroke-width="2.4"/>
<path d="M185.70 927.00L190.10 931.40L185.70 935.80L181.30 931.40Z" fill="#222"/>
<text x="203.20" y="934.10" font-size="9.4" font-weight="normal" text-anchor="start" fill="#222" >Day 1</text>
<line x1="237.40" y1="931.40" x2="261.10" y2="931.40" stroke="#a5a6a9" stroke-width="2.4"/>
<rect x="245.70" y="928.30" width="6.80" height="6.80" fill="#a5a6a9"/>
<text x="266.40" y="934.10" font-size="9.4" font-weight="normal" text-anchor="start" fill="#222" >Day 21</text>
<path d="M417.39 919.80h2.30v2.00h-2.30zM423.87 919.80h2.30v2.00h-2.30zM430.35 919.80h2.30v2.00h-2.30zM436.83 919.80h2.30v2.00h-2.30zM443.31 919.80h2.30v2.00h-2.30zM449.79 919.80h2.30v2.00h-2.30zM456.27 919.80h2.30v2.00h-2.30zM462.75 919.80h2.30v2.00h-2.30zM469.23 919.80h2.30v2.00h-2.30zM475.71 919.80h2.30v2.00h-2.30zM482.19 919.80h2.30v2.00h-2.30zM488.67 919.80h2.30v2.00h-2.30zM495.15 919.80h2.30v2.00h-2.30zM501.63 919.80h2.30v2.00h-2.30zM508.11 919.80h2.30v2.00h-2.30zM514.59 919.80h2.30v2.00h-2.30zM521.07 919.80h2.30v2.00h-2.30zM527.55 919.80h2.30v2.00h-2.30zM534.03 919.80h2.30v2.00h-2.30zM540.51 919.80h2.30v2.00h-2.30zM546.99 919.80h2.30v2.00h-2.30zM553.47 919.80h2.30v2.00h-2.30zM559.95 919.80h2.30v2.00h-2.30zM566.43 919.80h2.30v2.00h-2.30zM572.91 919.80h2.30v2.00h-2.30zM579.39 919.80h2.30v2.00h-2.30zM585.87 919.80h2.30v2.00h-2.30zM592.35 919.80h2.30v2.00h-2.30zM598.83 919.80h2.30v2.00h-2.30zM605.31 919.80h2.30v2.00h-2.30zM611.79 919.80h2.30v2.00h-2.30zM618.27 919.80h2.30v2.00h-2.30zM624.75 919.80h2.30v2.00h-2.30zM631.23 919.80h2.30v2.00h-2.30zM637.71 919.80h2.30v2.00h-2.30zM644.19 919.80h2.30v2.00h-2.30zM650.67 919.80h2.30v2.00h-2.30zM657.15 919.80h2.30v2.00h-2.30zM663.63 919.80h2.30v2.00h-2.30zM670.11 919.80h2.30v2.00h-2.30zM676.59 919.80h2.30v2.00h-2.30z" fill="#bdbdbd"/>
<path d="M417.39 889.55h2.30v2.00h-2.30zM423.87 889.55h2.30v2.00h-2.30zM430.35 889.55h2.30v2.00h-2.30zM436.83 889.55h2.30v2.00h-2.30zM443.31 889.55h2.30v2.00h-2.30zM449.79 889.55h2.30v2.00h-2.30zM456.27 889.55h2.30v2.00h-2.30zM462.75 889.55h2.30v2.00h-2.30zM469.23 889.55h2.30v2.00h-2.30zM475.71 889.55h2.30v2.00h-2.30zM482.19 889.55h2.30v2.00h-2.30zM488.67 889.55h2.30v2.00h-2.30zM495.15 889.55h2.30v2.00h-2.30zM501.63 889.55h2.30v2.00h-2.30zM508.11 889.55h2.30v2.00h-2.30zM514.59 889.55h2.30v2.00h-2.30zM521.07 889.55h2.30v2.00h-2.30zM527.55 889.55h2.30v2.00h-2.30zM534.03 889.55h2.30v2.00h-2.30zM540.51 889.55h2.30v2.00h-2.30zM546.99 889.55h2.30v2.00h-2.30zM553.47 889.55h2.30v2.00h-2.30zM559.95 889.55h2.30v2.00h-2.30zM566.43 889.55h2.30v2.00h-2.30zM572.91 889.55h2.30v2.00h-2.30zM579.39 889.55h2.30v2.00h-2.30zM585.87 889.55h2.30v2.00h-2.30zM592.35 889.55h2.30v2.00h-2.30zM598.83 889.55h2.30v2.00h-2.30zM605.31 889.55h2.30v2.00h-2.30zM611.79 889.55h2.30v2.00h-2.30zM618.27 889.55h2.30v2.00h-2.30zM624.75 889.55h2.30v2.00h-2.30zM631.23 889.55h2.30v2.00h-2.30zM637.71 889.55h2.30v2.00h-2.30zM644.19 889.55h2.30v2.00h-2.30zM650.67 889.55h2.30v2.00h-2.30zM657.15 889.55h2.30v2.00h-2.30zM663.63 889.55h2.30v2.00h-2.30zM670.11 889.55h2.30v2.00h-2.30zM676.59 889.55h2.30v2.00h-2.30z" fill="#bdbdbd"/>
<path d="M417.39 859.30h2.30v2.00h-2.30zM423.87 859.30h2.30v2.00h-2.30zM430.35 859.30h2.30v2.00h-2.30zM436.83 859.30h2.30v2.00h-2.30zM443.31 859.30h2.30v2.00h-2.30zM449.79 859.30h2.30v2.00h-2.30zM456.27 859.30h2.30v2.00h-2.30zM462.75 859.30h2.30v2.00h-2.30zM469.23 859.30h2.30v2.00h-2.30zM475.71 859.30h2.30v2.00h-2.30zM482.19 859.30h2.30v2.00h-2.30zM488.67 859.30h2.30v2.00h-2.30zM495.15 859.30h2.30v2.00h-2.30zM501.63 859.30h2.30v2.00h-2.30zM508.11 859.30h2.30v2.00h-2.30zM514.59 859.30h2.30v2.00h-2.30zM521.07 859.30h2.30v2.00h-2.30zM527.55 859.30h2.30v2.00h-2.30zM534.03 859.30h2.30v2.00h-2.30zM540.51 859.30h2.30v2.00h-2.30zM546.99 859.30h2.30v2.00h-2.30zM553.47 859.30h2.30v2.00h-2.30zM559.95 859.30h2.30v2.00h-2.30zM566.43 859.30h2.30v2.00h-2.30zM572.91 859.30h2.30v2.00h-2.30zM579.39 859.30h2.30v2.00h-2.30zM585.87 859.30h2.30v2.00h-2.30zM592.35 859.30h2.30v2.00h-2.30zM598.83 859.30h2.30v2.00h-2.30zM605.31 859.30h2.30v2.00h-2.30zM611.79 859.30h2.30v2.00h-2.30zM618.27 859.30h2.30v2.00h-2.30zM624.75 859.30h2.30v2.00h-2.30zM631.23 859.30h2.30v2.00h-2.30zM637.71 859.30h2.30v2.00h-2.30zM644.19 859.30h2.30v2.00h-2.30zM650.67 859.30h2.30v2.00h-2.30zM657.15 859.30h2.30v2.00h-2.30zM663.63 859.30h2.30v2.00h-2.30zM670.11 859.30h2.30v2.00h-2.30zM676.59 859.30h2.30v2.00h-2.30z" fill="#bdbdbd"/>
<path d="M417.39 829.05h2.30v2.00h-2.30zM423.87 829.05h2.30v2.00h-2.30zM430.35 829.05h2.30v2.00h-2.30zM436.83 829.05h2.30v2.00h-2.30zM443.31 829.05h2.30v2.00h-2.30zM449.79 829.05h2.30v2.00h-2.30zM456.27 829.05h2.30v2.00h-2.30zM462.75 829.05h2.30v2.00h-2.30zM469.23 829.05h2.30v2.00h-2.30zM475.71 829.05h2.30v2.00h-2.30zM482.19 829.05h2.30v2.00h-2.30zM488.67 829.05h2.30v2.00h-2.30zM495.15 829.05h2.30v2.00h-2.30zM501.63 829.05h2.30v2.00h-2.30zM508.11 829.05h2.30v2.00h-2.30zM514.59 829.05h2.30v2.00h-2.30zM521.07 829.05h2.30v2.00h-2.30zM527.55 829.05h2.30v2.00h-2.30zM534.03 829.05h2.30v2.00h-2.30zM540.51 829.05h2.30v2.00h-2.30zM546.99 829.05h2.30v2.00h-2.30zM553.47 829.05h2.30v2.00h-2.30zM559.95 829.05h2.30v2.00h-2.30zM566.43 829.05h2.30v2.00h-2.30zM572.91 829.05h2.30v2.00h-2.30zM579.39 829.05h2.30v2.00h-2.30zM585.87 829.05h2.30v2.00h-2.30zM592.35 829.05h2.30v2.00h-2.30zM598.83 829.05h2.30v2.00h-2.30zM605.31 829.05h2.30v2.00h-2.30zM611.79 829.05h2.30v2.00h-2.30zM618.27 829.05h2.30v2.00h-2.30zM624.75 829.05h2.30v2.00h-2.30zM631.23 829.05h2.30v2.00h-2.30zM637.71 829.05h2.30v2.00h-2.30zM644.19 829.05h2.30v2.00h-2.30zM650.67 829.05h2.30v2.00h-2.30zM657.15 829.05h2.30v2.00h-2.30zM663.63 829.05h2.30v2.00h-2.30zM670.11 829.05h2.30v2.00h-2.30zM676.59 829.05h2.30v2.00h-2.30z" fill="#bdbdbd"/>
<path d="M417.39 798.80h2.30v2.00h-2.30zM423.87 798.80h2.30v2.00h-2.30zM430.35 798.80h2.30v2.00h-2.30zM436.83 798.80h2.30v2.00h-2.30zM443.31 798.80h2.30v2.00h-2.30zM449.79 798.80h2.30v2.00h-2.30zM456.27 798.80h2.30v2.00h-2.30zM462.75 798.80h2.30v2.00h-2.30zM469.23 798.80h2.30v2.00h-2.30zM475.71 798.80h2.30v2.00h-2.30zM482.19 798.80h2.30v2.00h-2.30zM488.67 798.80h2.30v2.00h-2.30zM495.15 798.80h2.30v2.00h-2.30zM501.63 798.80h2.30v2.00h-2.30zM508.11 798.80h2.30v2.00h-2.30zM514.59 798.80h2.30v2.00h-2.30zM521.07 798.80h2.30v2.00h-2.30zM527.55 798.80h2.30v2.00h-2.30zM534.03 798.80h2.30v2.00h-2.30zM540.51 798.80h2.30v2.00h-2.30zM546.99 798.80h2.30v2.00h-2.30zM553.47 798.80h2.30v2.00h-2.30zM559.95 798.80h2.30v2.00h-2.30zM566.43 798.80h2.30v2.00h-2.30zM572.91 798.80h2.30v2.00h-2.30zM579.39 798.80h2.30v2.00h-2.30zM585.87 798.80h2.30v2.00h-2.30zM592.35 798.80h2.30v2.00h-2.30zM598.83 798.80h2.30v2.00h-2.30zM605.31 798.80h2.30v2.00h-2.30zM611.79 798.80h2.30v2.00h-2.30zM618.27 798.80h2.30v2.00h-2.30zM624.75 798.80h2.30v2.00h-2.30zM631.23 798.80h2.30v2.00h-2.30zM637.71 798.80h2.30v2.00h-2.30zM644.19 798.80h2.30v2.00h-2.30zM650.67 798.80h2.30v2.00h-2.30zM657.15 798.80h2.30v2.00h-2.30zM663.63 798.80h2.30v2.00h-2.30zM670.11 798.80h2.30v2.00h-2.30zM676.59 798.80h2.30v2.00h-2.30z" fill="#bdbdbd"/>
<path d="M465.05 772.85h2.10v2.10h-2.10zM465.05 777.18h2.10v2.10h-2.10zM465.05 781.51h2.10v2.10h-2.10zM465.05 785.84h2.10v2.10h-2.10zM465.05 790.17h2.10v2.10h-2.10zM465.05 794.50h2.10v2.10h-2.10zM465.05 798.83h2.10v2.10h-2.10zM465.05 803.16h2.10v2.10h-2.10zM465.05 807.49h2.10v2.10h-2.10zM465.05 811.82h2.10v2.10h-2.10zM465.05 816.15h2.10v2.10h-2.10zM465.05 820.48h2.10v2.10h-2.10zM465.05 824.81h2.10v2.10h-2.10zM465.05 829.14h2.10v2.10h-2.10zM465.05 833.47h2.10v2.10h-2.10zM465.05 837.80h2.10v2.10h-2.10zM465.05 842.13h2.10v2.10h-2.10zM465.05 846.46h2.10v2.10h-2.10zM465.05 850.79h2.10v2.10h-2.10zM465.05 855.12h2.10v2.10h-2.10zM465.05 859.45h2.10v2.10h-2.10zM465.05 863.78h2.10v2.10h-2.10zM465.05 868.11h2.10v2.10h-2.10zM465.05 872.44h2.10v2.10h-2.10zM465.05 876.77h2.10v2.10h-2.10zM465.05 881.10h2.10v2.10h-2.10zM465.05 885.43h2.10v2.10h-2.10zM465.05 889.76h2.10v2.10h-2.10zM465.05 894.09h2.10v2.10h-2.10zM465.05 898.42h2.10v2.10h-2.10zM465.05 902.75h2.10v2.10h-2.10zM465.05 907.08h2.10v2.10h-2.10zM465.05 911.41h2.10v2.10h-2.10zM465.05 915.74h2.10v2.10h-2.10zM465.05 920.07h2.10v2.10h-2.10zM465.05 924.40h2.10v2.10h-2.10zM465.05 928.73h2.10v2.10h-2.10zM465.05 933.06h2.10v2.10h-2.10zM465.05 937.39h2.10v2.10h-2.10zM465.05 941.72h2.10v2.10h-2.10zM465.05 946.05h2.10v2.10h-2.10z" fill="#bdbdbd"/>
<path d="M519.05 772.85h2.10v2.10h-2.10zM519.05 777.18h2.10v2.10h-2.10zM519.05 781.51h2.10v2.10h-2.10zM519.05 785.84h2.10v2.10h-2.10zM519.05 790.17h2.10v2.10h-2.10zM519.05 794.50h2.10v2.10h-2.10zM519.05 798.83h2.10v2.10h-2.10zM519.05 803.16h2.10v2.10h-2.10zM519.05 807.49h2.10v2.10h-2.10zM519.05 811.82h2.10v2.10h-2.10zM519.05 816.15h2.10v2.10h-2.10zM519.05 820.48h2.10v2.10h-2.10zM519.05 824.81h2.10v2.10h-2.10zM519.05 829.14h2.10v2.10h-2.10zM519.05 833.47h2.10v2.10h-2.10zM519.05 837.80h2.10v2.10h-2.10zM519.05 842.13h2.10v2.10h-2.10zM519.05 846.46h2.10v2.10h-2.10zM519.05 850.79h2.10v2.10h-2.10zM519.05 855.12h2.10v2.10h-2.10zM519.05 859.45h2.10v2.10h-2.10zM519.05 863.78h2.10v2.10h-2.10zM519.05 868.11h2.10v2.10h-2.10zM519.05 872.44h2.10v2.10h-2.10zM519.05 876.77h2.10v2.10h-2.10zM519.05 881.10h2.10v2.10h-2.10zM519.05 885.43h2.10v2.10h-2.10zM519.05 889.76h2.10v2.10h-2.10zM519.05 894.09h2.10v2.10h-2.10zM519.05 898.42h2.10v2.10h-2.10zM519.05 902.75h2.10v2.10h-2.10zM519.05 907.08h2.10v2.10h-2.10zM519.05 911.41h2.10v2.10h-2.10zM519.05 915.74h2.10v2.10h-2.10zM519.05 920.07h2.10v2.10h-2.10zM519.05 924.40h2.10v2.10h-2.10zM519.05 928.73h2.10v2.10h-2.10zM519.05 933.06h2.10v2.10h-2.10zM519.05 937.39h2.10v2.10h-2.10zM519.05 941.72h2.10v2.10h-2.10zM519.05 946.05h2.10v2.10h-2.10z" fill="#bdbdbd"/>
<path d="M571.05 772.85h2.10v2.10h-2.10zM571.05 777.18h2.10v2.10h-2.10zM571.05 781.51h2.10v2.10h-2.10zM571.05 785.84h2.10v2.10h-2.10zM571.05 790.17h2.10v2.10h-2.10zM571.05 794.50h2.10v2.10h-2.10zM571.05 798.83h2.10v2.10h-2.10zM571.05 803.16h2.10v2.10h-2.10zM571.05 807.49h2.10v2.10h-2.10zM571.05 811.82h2.10v2.10h-2.10zM571.05 816.15h2.10v2.10h-2.10zM571.05 820.48h2.10v2.10h-2.10zM571.05 824.81h2.10v2.10h-2.10zM571.05 829.14h2.10v2.10h-2.10zM571.05 833.47h2.10v2.10h-2.10zM571.05 837.80h2.10v2.10h-2.10zM571.05 842.13h2.10v2.10h-2.10zM571.05 846.46h2.10v2.10h-2.10zM571.05 850.79h2.10v2.10h-2.10zM571.05 855.12h2.10v2.10h-2.10zM571.05 859.45h2.10v2.10h-2.10zM571.05 863.78h2.10v2.10h-2.10zM571.05 868.11h2.10v2.10h-2.10zM571.05 872.44h2.10v2.10h-2.10zM571.05 876.77h2.10v2.10h-2.10zM571.05 881.10h2.10v2.10h-2.10zM571.05 885.43h2.10v2.10h-2.10zM571.05 889.76h2.10v2.10h-2.10zM571.05 894.09h2.10v2.10h-2.10zM571.05 898.42h2.10v2.10h-2.10zM571.05 902.75h2.10v2.10h-2.10zM571.05 907.08h2.10v2.10h-2.10zM571.05 911.41h2.10v2.10h-2.10zM571.05 915.74h2.10v2.10h-2.10zM571.05 920.07h2.10v2.10h-2.10zM571.05 924.40h2.10v2.10h-2.10zM571.05 928.73h2.10v2.10h-2.10zM571.05 933.06h2.10v2.10h-2.10zM571.05 937.39h2.10v2.10h-2.10zM571.05 941.72h2.10v2.10h-2.10zM571.05 946.05h2.10v2.10h-2.10z" fill="#bdbdbd"/>
<path d="M625.05 772.85h2.10v2.10h-2.10zM625.05 777.18h2.10v2.10h-2.10zM625.05 781.51h2.10v2.10h-2.10zM625.05 785.84h2.10v2.10h-2.10zM625.05 790.17h2.10v2.10h-2.10zM625.05 794.50h2.10v2.10h-2.10zM625.05 798.83h2.10v2.10h-2.10zM625.05 803.16h2.10v2.10h-2.10zM625.05 807.49h2.10v2.10h-2.10zM625.05 811.82h2.10v2.10h-2.10zM625.05 816.15h2.10v2.10h-2.10zM625.05 820.48h2.10v2.10h-2.10zM625.05 824.81h2.10v2.10h-2.10zM625.05 829.14h2.10v2.10h-2.10zM625.05 833.47h2.10v2.10h-2.10zM625.05 837.80h2.10v2.10h-2.10zM625.05 842.13h2.10v2.10h-2.10zM625.05 846.46h2.10v2.10h-2.10zM625.05 850.79h2.10v2.10h-2.10zM625.05 855.12h2.10v2.10h-2.10zM625.05 859.45h2.10v2.10h-2.10zM625.05 863.78h2.10v2.10h-2.10zM625.05 868.11h2.10v2.10h-2.10zM625.05 872.44h2.10v2.10h-2.10zM625.05 876.77h2.10v2.10h-2.10zM625.05 881.10h2.10v2.10h-2.10zM625.05 885.43h2.10v2.10h-2.10zM625.05 889.76h2.10v2.10h-2.10zM625.05 894.09h2.10v2.10h-2.10zM625.05 898.42h2.10v2.10h-2.10zM625.05 902.75h2.10v2.10h-2.10zM625.05 907.08h2.10v2.10h-2.10zM625.05 911.41h2.10v2.10h-2.10zM625.05 915.74h2.10v2.10h-2.10zM625.05 920.07h2.10v2.10h-2.10zM625.05 924.40h2.10v2.10h-2.10zM625.05 928.73h2.10v2.10h-2.10zM625.05 933.06h2.10v2.10h-2.10zM625.05 937.39h2.10v2.10h-2.10zM625.05 941.72h2.10v2.10h-2.10zM625.05 946.05h2.10v2.10h-2.10z" fill="#bdbdbd"/>
<rect x="415.30" y="768.60" width="263.70" height="181.80" fill="none" stroke="#222" stroke-width="2.2"/>
<text x="409.70" y="953.40" font-size="10.8" font-weight="normal" text-anchor="end" fill="#222" >8</text>
<text x="409.70" y="923.15" font-size="10.8" font-weight="normal" text-anchor="end" fill="#222" >9</text>
<text x="409.70" y="892.90" font-size="10.8" font-weight="normal" text-anchor="end" fill="#222" >10</text>
<text x="409.70" y="862.65" font-size="10.8" font-weight="normal" text-anchor="end" fill="#222" >11</text>
<text x="409.70" y="832.40" font-size="10.8" font-weight="normal" text-anchor="end" fill="#222" >12</text>
<text x="409.70" y="802.15" font-size="10.8" font-weight="normal" text-anchor="end" fill="#222" >13</text>
<text x="409.70" y="771.90" font-size="10.8" font-weight="normal" text-anchor="end" fill="#222" >14</text>
<text x="415.40" y="963.80" font-size="10.8" font-weight="normal" text-anchor="middle" fill="#222" >5</text>
<text x="467.80" y="963.80" font-size="10.8" font-weight="normal" text-anchor="middle" fill="#222" >6</text>
<text x="520.50" y="963.80" font-size="10.8" font-weight="normal" text-anchor="middle" fill="#222" >7</text>
<text x="573.20" y="963.80" font-size="10.8" font-weight="normal" text-anchor="middle" fill="#222" >8</text>
<text x="626.00" y="963.80" font-size="10.8" font-weight="normal" text-anchor="middle" fill="#222" >9</text>
<text x="678.70" y="963.80" font-size="10.8" font-weight="normal" text-anchor="middle" fill="#222" >10</text>
<text x="547.20" y="980.40" font-size="12.8" font-weight="bold" text-anchor="middle" fill="#222" >LOGe dose</text>
<text x="0.00" y="0.00" font-size="11.3" font-weight="bold" text-anchor="middle" fill="#222" transform="translate(387.2 859.2) rotate(-90)">LOGe AUC</text>
<path d="M441.20 903.05L445.05 906.90L441.20 910.75L437.35 906.90Z" fill="#222"/>
<path d="M440.50 913.65L444.35 917.50L440.50 921.35L436.65 917.50Z" fill="#222"/>
<path d="M477.80 871.55L481.65 875.40L477.80 879.25L473.95 875.40Z" fill="#222"/>
<path d="M477.80 896.65L481.65 900.50L477.80 904.35L473.95 900.50Z" fill="#222"/>
<path d="M514.50 868.25L518.35 872.10L514.50 875.95L510.65 872.10Z" fill="#222"/>
<path d="M514.50 870.65L518.35 874.50L514.50 878.35L510.65 874.50Z" fill="#222"/>
<path d="M514.50 877.25L518.35 881.10L514.50 884.95L510.65 881.10Z" fill="#222"/>
<path d="M551.60 823.95L555.45 827.80L551.60 831.65L547.75 827.80Z" fill="#222"/>
<path d="M551.60 836.05L555.45 839.90L551.60 843.75L547.75 839.90Z" fill="#222"/>
<path d="M551.60 838.35L555.45 842.20L551.60 846.05L547.75 842.20Z" fill="#222"/>
<path d="M551.60 846.75L555.45 850.60L551.60 854.45L547.75 850.60Z" fill="#222"/>
<path d="M588.30 835.85L592.15 839.70L588.30 843.55L584.45 839.70Z" fill="#222"/>
<path d="M610.00 775.15L613.85 779.00L610.00 782.85L606.15 779.00Z" fill="#222"/>
<path d="M610.00 793.75L613.85 797.60L610.00 801.45L606.15 797.60Z" fill="#222"/>
<path d="M610.00 800.85L613.85 804.70L610.00 808.55L606.15 804.70Z" fill="#222"/>
<path d="M610.00 828.25L613.85 832.10L610.00 835.95L606.15 832.10Z" fill="#222"/>
<path d="M610.00 831.05L613.85 834.90L610.00 838.75L606.15 834.90Z" fill="#222"/>
<path d="M610.00 843.65L613.85 847.50L610.00 851.35L606.15 847.50Z" fill="#222"/>
<path d="M625.20 830.75L629.05 834.60L625.20 838.45L621.35 834.60Z" fill="#222"/>
<path d="M441.40 911.85L445.25 915.70L441.40 919.55L437.55 915.70Z" fill="#a3a3a3"/>
<path d="M441.20 915.05L445.05 918.90L441.20 922.75L437.35 918.90Z" fill="#a3a3a3"/>
<path d="M477.80 880.55L481.65 884.40L477.80 888.25L473.95 884.40Z" fill="#a3a3a3"/>
<path d="M477.80 885.75L481.65 889.60L477.80 893.45L473.95 889.60Z" fill="#a3a3a3"/>
<path d="M514.50 863.25L518.35 867.10L514.50 870.95L510.65 867.10Z" fill="#a3a3a3"/>
<path d="M514.50 883.45L518.35 887.30L514.50 891.15L510.65 887.30Z" fill="#a3a3a3"/>
<path d="M551.60 829.85L555.45 833.70L551.60 837.55L547.75 833.70Z" fill="#a3a3a3"/>
<path d="M551.60 841.35L555.45 845.20L551.60 849.05L547.75 845.20Z" fill="#a3a3a3"/>
<path d="M551.60 843.45L555.45 847.30L551.60 851.15L547.75 847.30Z" fill="#a3a3a3"/>
<path d="M588.30 827.25L592.15 831.10L588.30 834.95L584.45 831.10Z" fill="#a3a3a3"/>
<path d="M588.30 860.45L592.15 864.30L588.30 868.15L584.45 864.30Z" fill="#a3a3a3"/>
<path d="M610.00 805.75L613.85 809.60L610.00 813.45L606.15 809.60Z" fill="#a3a3a3"/>
<path d="M610.00 812.35L613.85 816.20L610.00 820.05L606.15 816.20Z" fill="#a3a3a3"/>
<path d="M610.00 814.15L613.85 818.00L610.00 821.85L606.15 818.00Z" fill="#a3a3a3"/>
<path d="M610.00 820.05L613.85 823.90L610.00 827.75L606.15 823.90Z" fill="#a3a3a3"/>
<path d="M625.20 804.25L629.05 808.10L625.20 811.95L621.35 808.10Z" fill="#a3a3a3"/>
<path d="M625.20 812.35L629.05 816.20L625.20 820.05L621.35 816.20Z" fill="#a3a3a3"/>
<path d="M625.20 815.35L629.05 819.20L625.20 823.05L621.35 819.20Z" fill="#a3a3a3"/>
<path d="M625.20 817.95L629.05 821.80L625.20 825.65L621.35 821.80Z" fill="#a3a3a3"/>
<path d="M625.20 820.05L629.05 823.90L625.20 827.75L621.35 823.90Z" fill="#a3a3a3"/>
<line x1="443.5" y1="907.7" x2="625.5" y2="810.6" stroke="#222" stroke-width="1.5"/>
<line x1="442.0" y1="911.3" x2="625.5" y2="812.8" stroke="#a8a8a8" stroke-width="1.4"/>
<path d="M551.40 846.95L555.25 850.80L551.40 854.65L547.55 850.80Z" fill="#222"/>
<rect x="532.8" y="888.0" width="140.0" height="56.0" fill="#fff" stroke="#444" stroke-width="1"/>
<path d="M542.90 893.30L546.60 897.00L542.90 900.70L539.20 897.00Z" fill="#222"/>
<path d="M542.90 905.70L546.60 909.40L542.90 913.10L539.20 909.40Z" fill="#a3a3a3"/>
<line x1="536.3" y1="923.1" x2="547.5" y2="923.1" stroke="#222" stroke-width="2.2"/>
<line x1="536.3" y1="936.0" x2="547.5" y2="936.0" stroke="#a8a8a8" stroke-width="2.2"/>
<text x="553.60" y="899.20" font-size="8.2" font-weight="normal" text-anchor="start" fill="#222" >LOGe AUC 0 -&gt; inf [D1]</text>
<text x="553.60" y="912.20" font-size="8.2" font-weight="normal" text-anchor="start" fill="#222" >LOGe AUC 0 -&gt; 8 h [D21]</text>
<text x="553.60" y="926.10" font-size="8.2" font-weight="normal" text-anchor="start" fill="#222" >Lin. (LOGe AUC 0 -&gt; inf [D1])</text>
<text x="553.60" y="940.00" font-size="8.2" font-weight="normal" text-anchor="start" fill="#222" >Lin. (LOGe AUC 0 -&gt; 8 h [D21])</text>
</svg>
</body></html>
